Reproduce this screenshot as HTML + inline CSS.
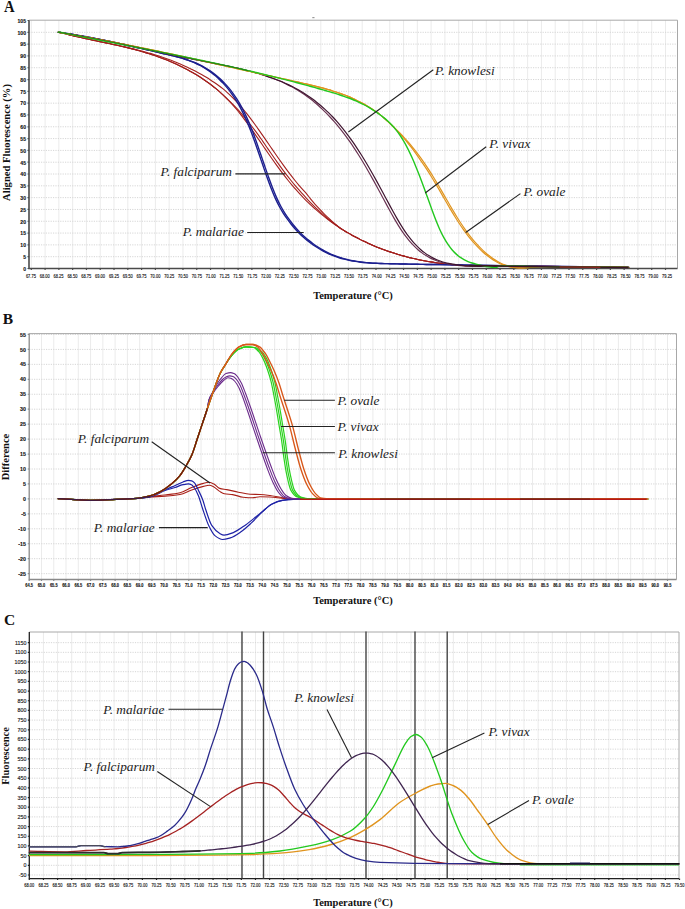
<!DOCTYPE html><html><head><meta charset="utf-8"><style>html,body{margin:0;padding:0;background:#fff;overflow:hidden;}svg{display:block;}</style></head><body>
<svg width="685" height="909" viewBox="0 0 685 909">
<rect width="685" height="909" fill="#fff"/>
<path d="M31.3,20.2V268.5 M45.09,20.2V268.5 M58.87,20.2V268.5 M72.66,20.2V268.5 M86.45,20.2V268.5 M100.23,20.2V268.5 M114.02,20.2V268.5 M127.81,20.2V268.5 M141.6,20.2V268.5 M155.38,20.2V268.5 M169.17,20.2V268.5 M182.96,20.2V268.5 M196.74,20.2V268.5 M210.53,20.2V268.5 M224.32,20.2V268.5 M238.11,20.2V268.5 M251.89,20.2V268.5 M265.68,20.2V268.5 M279.47,20.2V268.5 M293.25,20.2V268.5 M307.04,20.2V268.5 M320.83,20.2V268.5 M334.61,20.2V268.5 M348.4,20.2V268.5 M362.19,20.2V268.5 M375.98,20.2V268.5 M389.76,20.2V268.5 M403.55,20.2V268.5 M417.34,20.2V268.5 M431.12,20.2V268.5 M444.91,20.2V268.5 M458.7,20.2V268.5 M472.48,20.2V268.5 M486.27,20.2V268.5 M500.06,20.2V268.5 M513.85,20.2V268.5 M527.63,20.2V268.5 M541.42,20.2V268.5 M555.21,20.2V268.5 M568.99,20.2V268.5 M582.78,20.2V268.5 M596.57,20.2V268.5 M610.35,20.2V268.5 M624.14,20.2V268.5 M637.93,20.2V268.5 M651.72,20.2V268.5 M665.5,20.2V268.5" stroke="#ebebeb" stroke-width="1" fill="none"/>
<path d="M29,256.69H677.5 M29,244.88H677.5 M29,233.07H677.5 M29,221.26H677.5 M29,209.45H677.5 M29,197.64H677.5 M29,185.83H677.5 M29,174.02H677.5 M29,162.21H677.5 M29,150.4H677.5 M29,138.59H677.5 M29,126.78H677.5 M29,114.97H677.5 M29,103.16H677.5 M29,91.35H677.5 M29,79.54H677.5 M29,67.73H677.5 M29,55.92H677.5 M29,44.11H677.5 M29,32.3H677.5" stroke="#d6d6d6" stroke-width="1" stroke-dasharray="1.2 1.2" fill="none"/>
<path d="M29,20.2H677.5V268.5" stroke="#a8a8a8" stroke-width="1" fill="none"/>
<path d="M29,20.2V268.5H677.5" stroke="#4a4a4a" stroke-width="1.6" fill="none"/>
<path d="M31.3,268.5v1.5 M45.09,268.5v1.5 M58.87,268.5v1.5 M72.66,268.5v1.5 M86.45,268.5v1.5 M100.23,268.5v1.5 M114.02,268.5v1.5 M127.81,268.5v1.5 M141.6,268.5v1.5 M155.38,268.5v1.5 M169.17,268.5v1.5 M182.96,268.5v1.5 M196.74,268.5v1.5 M210.53,268.5v1.5 M224.32,268.5v1.5 M238.11,268.5v1.5 M251.89,268.5v1.5 M265.68,268.5v1.5 M279.47,268.5v1.5 M293.25,268.5v1.5 M307.04,268.5v1.5 M320.83,268.5v1.5 M334.61,268.5v1.5 M348.4,268.5v1.5 M362.19,268.5v1.5 M375.98,268.5v1.5 M389.76,268.5v1.5 M403.55,268.5v1.5 M417.34,268.5v1.5 M431.12,268.5v1.5 M444.91,268.5v1.5 M458.7,268.5v1.5 M472.48,268.5v1.5 M486.27,268.5v1.5 M500.06,268.5v1.5 M513.85,268.5v1.5 M527.63,268.5v1.5 M541.42,268.5v1.5 M555.21,268.5v1.5 M568.99,268.5v1.5 M582.78,268.5v1.5 M596.57,268.5v1.5 M610.35,268.5v1.5 M624.14,268.5v1.5 M637.93,268.5v1.5 M651.72,268.5v1.5 M665.5,268.5v1.5 M29,268.5h-1.5 M29,256.69h-1.5 M29,244.88h-1.5 M29,233.07h-1.5 M29,221.26h-1.5 M29,209.45h-1.5 M29,197.64h-1.5 M29,185.83h-1.5 M29,174.02h-1.5 M29,162.21h-1.5 M29,150.4h-1.5 M29,138.59h-1.5 M29,126.78h-1.5 M29,114.97h-1.5 M29,103.16h-1.5 M29,91.35h-1.5 M29,79.54h-1.5 M29,67.73h-1.5 M29,55.92h-1.5 M29,44.11h-1.5 M29,32.3h-1.5 M29,20.49h-1.5" stroke="#4a4a4a" stroke-width="1.2" fill="none"/>
<g font-family="'Liberation Sans', sans-serif" font-size="5.1" font-weight="bold" fill="#111" stroke="#111" stroke-width="0.12">
<text x="30.9" y="277.7" font-size="4.6" font-weight="normal" text-anchor="middle" textLength="10" lengthAdjust="spacingAndGlyphs">67.75</text>
<text x="44.73" y="277.7" font-size="4.6" font-weight="normal" text-anchor="middle" textLength="10" lengthAdjust="spacingAndGlyphs">68.00</text>
<text x="58.56" y="277.7" font-size="4.6" font-weight="normal" text-anchor="middle" textLength="10" lengthAdjust="spacingAndGlyphs">68.25</text>
<text x="72.39" y="277.7" font-size="4.6" font-weight="normal" text-anchor="middle" textLength="10" lengthAdjust="spacingAndGlyphs">68.50</text>
<text x="86.22" y="277.7" font-size="4.6" font-weight="normal" text-anchor="middle" textLength="10" lengthAdjust="spacingAndGlyphs">68.75</text>
<text x="100.05" y="277.7" font-size="4.6" font-weight="normal" text-anchor="middle" textLength="10" lengthAdjust="spacingAndGlyphs">69.00</text>
<text x="113.88" y="277.7" font-size="4.6" font-weight="normal" text-anchor="middle" textLength="10" lengthAdjust="spacingAndGlyphs">69.25</text>
<text x="127.71" y="277.7" font-size="4.6" font-weight="normal" text-anchor="middle" textLength="10" lengthAdjust="spacingAndGlyphs">69.50</text>
<text x="141.54" y="277.7" font-size="4.6" font-weight="normal" text-anchor="middle" textLength="10" lengthAdjust="spacingAndGlyphs">69.75</text>
<text x="155.37" y="277.7" font-size="4.6" font-weight="normal" text-anchor="middle" textLength="10" lengthAdjust="spacingAndGlyphs">70.00</text>
<text x="169.2" y="277.7" font-size="4.6" font-weight="normal" text-anchor="middle" textLength="10" lengthAdjust="spacingAndGlyphs">70.25</text>
<text x="183.03" y="277.7" font-size="4.6" font-weight="normal" text-anchor="middle" textLength="10" lengthAdjust="spacingAndGlyphs">70.50</text>
<text x="196.86" y="277.7" font-size="4.6" font-weight="normal" text-anchor="middle" textLength="10" lengthAdjust="spacingAndGlyphs">70.75</text>
<text x="210.69" y="277.7" font-size="4.6" font-weight="normal" text-anchor="middle" textLength="10" lengthAdjust="spacingAndGlyphs">71.00</text>
<text x="224.52" y="277.7" font-size="4.6" font-weight="normal" text-anchor="middle" textLength="10" lengthAdjust="spacingAndGlyphs">71.25</text>
<text x="238.35" y="277.7" font-size="4.6" font-weight="normal" text-anchor="middle" textLength="10" lengthAdjust="spacingAndGlyphs">71.50</text>
<text x="252.18" y="277.7" font-size="4.6" font-weight="normal" text-anchor="middle" textLength="10" lengthAdjust="spacingAndGlyphs">71.75</text>
<text x="266.01" y="277.7" font-size="4.6" font-weight="normal" text-anchor="middle" textLength="10" lengthAdjust="spacingAndGlyphs">72.00</text>
<text x="279.84" y="277.7" font-size="4.6" font-weight="normal" text-anchor="middle" textLength="10" lengthAdjust="spacingAndGlyphs">72.25</text>
<text x="293.67" y="277.7" font-size="4.6" font-weight="normal" text-anchor="middle" textLength="10" lengthAdjust="spacingAndGlyphs">72.50</text>
<text x="307.5" y="277.7" font-size="4.6" font-weight="normal" text-anchor="middle" textLength="10" lengthAdjust="spacingAndGlyphs">72.75</text>
<text x="321.33" y="277.7" font-size="4.6" font-weight="normal" text-anchor="middle" textLength="10" lengthAdjust="spacingAndGlyphs">73.00</text>
<text x="335.16" y="277.7" font-size="4.6" font-weight="normal" text-anchor="middle" textLength="10" lengthAdjust="spacingAndGlyphs">73.25</text>
<text x="348.99" y="277.7" font-size="4.6" font-weight="normal" text-anchor="middle" textLength="10" lengthAdjust="spacingAndGlyphs">73.50</text>
<text x="362.82" y="277.7" font-size="4.6" font-weight="normal" text-anchor="middle" textLength="10" lengthAdjust="spacingAndGlyphs">73.75</text>
<text x="376.65" y="277.7" font-size="4.6" font-weight="normal" text-anchor="middle" textLength="10" lengthAdjust="spacingAndGlyphs">74.00</text>
<text x="390.48" y="277.7" font-size="4.6" font-weight="normal" text-anchor="middle" textLength="10" lengthAdjust="spacingAndGlyphs">74.25</text>
<text x="404.31" y="277.7" font-size="4.6" font-weight="normal" text-anchor="middle" textLength="10" lengthAdjust="spacingAndGlyphs">74.50</text>
<text x="418.14" y="277.7" font-size="4.6" font-weight="normal" text-anchor="middle" textLength="10" lengthAdjust="spacingAndGlyphs">74.75</text>
<text x="431.97" y="277.7" font-size="4.6" font-weight="normal" text-anchor="middle" textLength="10" lengthAdjust="spacingAndGlyphs">75.00</text>
<text x="445.8" y="277.7" font-size="4.6" font-weight="normal" text-anchor="middle" textLength="10" lengthAdjust="spacingAndGlyphs">75.25</text>
<text x="459.63" y="277.7" font-size="4.6" font-weight="normal" text-anchor="middle" textLength="10" lengthAdjust="spacingAndGlyphs">75.50</text>
<text x="473.46" y="277.7" font-size="4.6" font-weight="normal" text-anchor="middle" textLength="10" lengthAdjust="spacingAndGlyphs">75.75</text>
<text x="487.29" y="277.7" font-size="4.6" font-weight="normal" text-anchor="middle" textLength="10" lengthAdjust="spacingAndGlyphs">76.00</text>
<text x="501.12" y="277.7" font-size="4.6" font-weight="normal" text-anchor="middle" textLength="10" lengthAdjust="spacingAndGlyphs">76.25</text>
<text x="514.95" y="277.7" font-size="4.6" font-weight="normal" text-anchor="middle" textLength="10" lengthAdjust="spacingAndGlyphs">76.50</text>
<text x="528.78" y="277.7" font-size="4.6" font-weight="normal" text-anchor="middle" textLength="10" lengthAdjust="spacingAndGlyphs">76.75</text>
<text x="542.61" y="277.7" font-size="4.6" font-weight="normal" text-anchor="middle" textLength="10" lengthAdjust="spacingAndGlyphs">77.00</text>
<text x="556.44" y="277.7" font-size="4.6" font-weight="normal" text-anchor="middle" textLength="10" lengthAdjust="spacingAndGlyphs">77.25</text>
<text x="570.27" y="277.7" font-size="4.6" font-weight="normal" text-anchor="middle" textLength="10" lengthAdjust="spacingAndGlyphs">77.50</text>
<text x="584.1" y="277.7" font-size="4.6" font-weight="normal" text-anchor="middle" textLength="10" lengthAdjust="spacingAndGlyphs">77.75</text>
<text x="597.93" y="277.7" font-size="4.6" font-weight="normal" text-anchor="middle" textLength="10" lengthAdjust="spacingAndGlyphs">78.00</text>
<text x="611.76" y="277.7" font-size="4.6" font-weight="normal" text-anchor="middle" textLength="10" lengthAdjust="spacingAndGlyphs">78.25</text>
<text x="625.59" y="277.7" font-size="4.6" font-weight="normal" text-anchor="middle" textLength="10" lengthAdjust="spacingAndGlyphs">78.50</text>
<text x="639.42" y="277.7" font-size="4.6" font-weight="normal" text-anchor="middle" textLength="10" lengthAdjust="spacingAndGlyphs">78.75</text>
<text x="653.25" y="277.7" font-size="4.6" font-weight="normal" text-anchor="middle" textLength="10" lengthAdjust="spacingAndGlyphs">79.00</text>
<text x="667.08" y="277.7" font-size="4.6" font-weight="normal" text-anchor="middle" textLength="10" lengthAdjust="spacingAndGlyphs">79.25</text>
<text x="26" y="270.8" text-anchor="end">0</text>
<text x="26" y="258.99" text-anchor="end">5</text>
<text x="26" y="247.18" text-anchor="end">10</text>
<text x="26" y="235.37" text-anchor="end">15</text>
<text x="26" y="223.56" text-anchor="end">20</text>
<text x="26" y="211.75" text-anchor="end">25</text>
<text x="26" y="199.94" text-anchor="end">30</text>
<text x="26" y="188.13" text-anchor="end">35</text>
<text x="26" y="176.32" text-anchor="end">40</text>
<text x="26" y="164.51" text-anchor="end">45</text>
<text x="26" y="152.7" text-anchor="end">50</text>
<text x="26" y="140.89" text-anchor="end">55</text>
<text x="26" y="129.08" text-anchor="end">60</text>
<text x="26" y="117.27" text-anchor="end">65</text>
<text x="26" y="105.46" text-anchor="end">70</text>
<text x="26" y="93.65" text-anchor="end">75</text>
<text x="26" y="81.84" text-anchor="end">80</text>
<text x="26" y="70.03" text-anchor="end">85</text>
<text x="26" y="58.22" text-anchor="end">90</text>
<text x="26" y="46.41" text-anchor="end">95</text>
<text x="26" y="34.6" text-anchor="end">100</text>
<text x="26" y="22.79" text-anchor="end">105</text>
</g>
<path d="M41.48,333.6V579.5 M53.75,333.6V579.5 M66.03,333.6V579.5 M78.3,333.6V579.5 M90.58,333.6V579.5 M102.85,333.6V579.5 M115.12,333.6V579.5 M127.4,333.6V579.5 M139.68,333.6V579.5 M151.95,333.6V579.5 M164.22,333.6V579.5 M176.5,333.6V579.5 M188.78,333.6V579.5 M201.05,333.6V579.5 M213.32,333.6V579.5 M225.6,333.6V579.5 M237.88,333.6V579.5 M250.15,333.6V579.5 M262.43,333.6V579.5 M274.7,333.6V579.5 M286.98,333.6V579.5 M299.25,333.6V579.5 M311.52,333.6V579.5 M323.8,333.6V579.5 M336.07,333.6V579.5 M348.35,333.6V579.5 M360.62,333.6V579.5 M372.9,333.6V579.5 M385.18,333.6V579.5 M397.45,333.6V579.5 M409.73,333.6V579.5 M422,333.6V579.5 M434.27,333.6V579.5 M446.55,333.6V579.5 M458.82,333.6V579.5 M471.1,333.6V579.5 M483.38,333.6V579.5 M495.65,333.6V579.5 M507.93,333.6V579.5 M520.2,333.6V579.5 M532.48,333.6V579.5 M544.75,333.6V579.5 M557.03,333.6V579.5 M569.3,333.6V579.5 M581.58,333.6V579.5 M593.85,333.6V579.5 M606.13,333.6V579.5 M618.4,333.6V579.5 M630.68,333.6V579.5 M642.95,333.6V579.5 M655.23,333.6V579.5 M667.5,333.6V579.5" stroke="#ebebeb" stroke-width="1" fill="none"/>
<path d="M29.2,334.45H676.5 M29.2,349.4H676.5 M29.2,364.35H676.5 M29.2,379.3H676.5 M29.2,394.25H676.5 M29.2,409.2H676.5 M29.2,424.15H676.5 M29.2,439.1H676.5 M29.2,454.05H676.5 M29.2,469H676.5 M29.2,483.95H676.5 M29.2,498.9H676.5 M29.2,513.85H676.5 M29.2,528.8H676.5 M29.2,543.75H676.5 M29.2,558.7H676.5 M29.2,573.65H676.5" stroke="#d6d6d6" stroke-width="1" stroke-dasharray="1.2 1.2" fill="none"/>
<path d="M29.2,333.6H676.5V579.5" stroke="#a8a8a8" stroke-width="1" fill="none"/>
<path d="M29.2,333.6V579.5H676.5" stroke="#8a8a8a" stroke-width="1.3" fill="none"/>
<path d="M29.2,579.5v1.5 M41.48,579.5v1.5 M53.75,579.5v1.5 M66.03,579.5v1.5 M78.3,579.5v1.5 M90.58,579.5v1.5 M102.85,579.5v1.5 M115.12,579.5v1.5 M127.4,579.5v1.5 M139.68,579.5v1.5 M151.95,579.5v1.5 M164.22,579.5v1.5 M176.5,579.5v1.5 M188.78,579.5v1.5 M201.05,579.5v1.5 M213.32,579.5v1.5 M225.6,579.5v1.5 M237.88,579.5v1.5 M250.15,579.5v1.5 M262.43,579.5v1.5 M274.7,579.5v1.5 M286.98,579.5v1.5 M299.25,579.5v1.5 M311.52,579.5v1.5 M323.8,579.5v1.5 M336.07,579.5v1.5 M348.35,579.5v1.5 M360.62,579.5v1.5 M372.9,579.5v1.5 M385.18,579.5v1.5 M397.45,579.5v1.5 M409.73,579.5v1.5 M422,579.5v1.5 M434.27,579.5v1.5 M446.55,579.5v1.5 M458.82,579.5v1.5 M471.1,579.5v1.5 M483.38,579.5v1.5 M495.65,579.5v1.5 M507.93,579.5v1.5 M520.2,579.5v1.5 M532.48,579.5v1.5 M544.75,579.5v1.5 M557.03,579.5v1.5 M569.3,579.5v1.5 M581.58,579.5v1.5 M593.85,579.5v1.5 M606.13,579.5v1.5 M618.4,579.5v1.5 M630.68,579.5v1.5 M642.95,579.5v1.5 M655.23,579.5v1.5 M667.5,579.5v1.5 M29.2,334.45h-1.5 M29.2,349.4h-1.5 M29.2,364.35h-1.5 M29.2,379.3h-1.5 M29.2,394.25h-1.5 M29.2,409.2h-1.5 M29.2,424.15h-1.5 M29.2,439.1h-1.5 M29.2,454.05h-1.5 M29.2,469h-1.5 M29.2,483.95h-1.5 M29.2,498.9h-1.5 M29.2,513.85h-1.5 M29.2,528.8h-1.5 M29.2,543.75h-1.5 M29.2,558.7h-1.5 M29.2,573.65h-1.5" stroke="#8a8a8a" stroke-width="1.2" fill="none"/>
<g font-family="'Liberation Sans', sans-serif" font-size="5.3" font-weight="bold" fill="#111" stroke="#111" stroke-width="0.12">
<text x="29.2" y="586.7" font-size="4.5" font-weight="bold" text-anchor="middle" textLength="7.7" lengthAdjust="spacingAndGlyphs">64.5</text>
<text x="41.48" y="586.7" font-size="4.5" font-weight="bold" text-anchor="middle" textLength="7.7" lengthAdjust="spacingAndGlyphs">65.0</text>
<text x="53.75" y="586.7" font-size="4.5" font-weight="bold" text-anchor="middle" textLength="7.7" lengthAdjust="spacingAndGlyphs">65.5</text>
<text x="66.03" y="586.7" font-size="4.5" font-weight="bold" text-anchor="middle" textLength="7.7" lengthAdjust="spacingAndGlyphs">66.0</text>
<text x="78.3" y="586.7" font-size="4.5" font-weight="bold" text-anchor="middle" textLength="7.7" lengthAdjust="spacingAndGlyphs">66.5</text>
<text x="90.58" y="586.7" font-size="4.5" font-weight="bold" text-anchor="middle" textLength="7.7" lengthAdjust="spacingAndGlyphs">67.0</text>
<text x="102.85" y="586.7" font-size="4.5" font-weight="bold" text-anchor="middle" textLength="7.7" lengthAdjust="spacingAndGlyphs">67.5</text>
<text x="115.12" y="586.7" font-size="4.5" font-weight="bold" text-anchor="middle" textLength="7.7" lengthAdjust="spacingAndGlyphs">68.0</text>
<text x="127.4" y="586.7" font-size="4.5" font-weight="bold" text-anchor="middle" textLength="7.7" lengthAdjust="spacingAndGlyphs">68.5</text>
<text x="139.68" y="586.7" font-size="4.5" font-weight="bold" text-anchor="middle" textLength="7.7" lengthAdjust="spacingAndGlyphs">69.0</text>
<text x="151.95" y="586.7" font-size="4.5" font-weight="bold" text-anchor="middle" textLength="7.7" lengthAdjust="spacingAndGlyphs">69.5</text>
<text x="164.22" y="586.7" font-size="4.5" font-weight="bold" text-anchor="middle" textLength="7.7" lengthAdjust="spacingAndGlyphs">70.0</text>
<text x="176.5" y="586.7" font-size="4.5" font-weight="bold" text-anchor="middle" textLength="7.7" lengthAdjust="spacingAndGlyphs">70.5</text>
<text x="188.78" y="586.7" font-size="4.5" font-weight="bold" text-anchor="middle" textLength="7.7" lengthAdjust="spacingAndGlyphs">71.0</text>
<text x="201.05" y="586.7" font-size="4.5" font-weight="bold" text-anchor="middle" textLength="7.7" lengthAdjust="spacingAndGlyphs">71.5</text>
<text x="213.32" y="586.7" font-size="4.5" font-weight="bold" text-anchor="middle" textLength="7.7" lengthAdjust="spacingAndGlyphs">72.0</text>
<text x="225.6" y="586.7" font-size="4.5" font-weight="bold" text-anchor="middle" textLength="7.7" lengthAdjust="spacingAndGlyphs">72.5</text>
<text x="237.88" y="586.7" font-size="4.5" font-weight="bold" text-anchor="middle" textLength="7.7" lengthAdjust="spacingAndGlyphs">73.0</text>
<text x="250.15" y="586.7" font-size="4.5" font-weight="bold" text-anchor="middle" textLength="7.7" lengthAdjust="spacingAndGlyphs">73.5</text>
<text x="262.43" y="586.7" font-size="4.5" font-weight="bold" text-anchor="middle" textLength="7.7" lengthAdjust="spacingAndGlyphs">74.0</text>
<text x="274.7" y="586.7" font-size="4.5" font-weight="bold" text-anchor="middle" textLength="7.7" lengthAdjust="spacingAndGlyphs">74.5</text>
<text x="286.98" y="586.7" font-size="4.5" font-weight="bold" text-anchor="middle" textLength="7.7" lengthAdjust="spacingAndGlyphs">75.0</text>
<text x="299.25" y="586.7" font-size="4.5" font-weight="bold" text-anchor="middle" textLength="7.7" lengthAdjust="spacingAndGlyphs">75.5</text>
<text x="311.52" y="586.7" font-size="4.5" font-weight="bold" text-anchor="middle" textLength="7.7" lengthAdjust="spacingAndGlyphs">76.0</text>
<text x="323.8" y="586.7" font-size="4.5" font-weight="bold" text-anchor="middle" textLength="7.7" lengthAdjust="spacingAndGlyphs">76.5</text>
<text x="336.07" y="586.7" font-size="4.5" font-weight="bold" text-anchor="middle" textLength="7.7" lengthAdjust="spacingAndGlyphs">77.0</text>
<text x="348.35" y="586.7" font-size="4.5" font-weight="bold" text-anchor="middle" textLength="7.7" lengthAdjust="spacingAndGlyphs">77.5</text>
<text x="360.62" y="586.7" font-size="4.5" font-weight="bold" text-anchor="middle" textLength="7.7" lengthAdjust="spacingAndGlyphs">78.0</text>
<text x="372.9" y="586.7" font-size="4.5" font-weight="bold" text-anchor="middle" textLength="7.7" lengthAdjust="spacingAndGlyphs">78.5</text>
<text x="385.18" y="586.7" font-size="4.5" font-weight="bold" text-anchor="middle" textLength="7.7" lengthAdjust="spacingAndGlyphs">79.0</text>
<text x="397.45" y="586.7" font-size="4.5" font-weight="bold" text-anchor="middle" textLength="7.7" lengthAdjust="spacingAndGlyphs">79.5</text>
<text x="409.73" y="586.7" font-size="4.5" font-weight="bold" text-anchor="middle" textLength="7.7" lengthAdjust="spacingAndGlyphs">80.0</text>
<text x="422" y="586.7" font-size="4.5" font-weight="bold" text-anchor="middle" textLength="7.7" lengthAdjust="spacingAndGlyphs">80.5</text>
<text x="434.27" y="586.7" font-size="4.5" font-weight="bold" text-anchor="middle" textLength="7.7" lengthAdjust="spacingAndGlyphs">81.0</text>
<text x="446.55" y="586.7" font-size="4.5" font-weight="bold" text-anchor="middle" textLength="7.7" lengthAdjust="spacingAndGlyphs">81.5</text>
<text x="458.82" y="586.7" font-size="4.5" font-weight="bold" text-anchor="middle" textLength="7.7" lengthAdjust="spacingAndGlyphs">82.0</text>
<text x="471.1" y="586.7" font-size="4.5" font-weight="bold" text-anchor="middle" textLength="7.7" lengthAdjust="spacingAndGlyphs">82.5</text>
<text x="483.38" y="586.7" font-size="4.5" font-weight="bold" text-anchor="middle" textLength="7.7" lengthAdjust="spacingAndGlyphs">83.0</text>
<text x="495.65" y="586.7" font-size="4.5" font-weight="bold" text-anchor="middle" textLength="7.7" lengthAdjust="spacingAndGlyphs">83.5</text>
<text x="507.93" y="586.7" font-size="4.5" font-weight="bold" text-anchor="middle" textLength="7.7" lengthAdjust="spacingAndGlyphs">84.0</text>
<text x="520.2" y="586.7" font-size="4.5" font-weight="bold" text-anchor="middle" textLength="7.7" lengthAdjust="spacingAndGlyphs">84.5</text>
<text x="532.48" y="586.7" font-size="4.5" font-weight="bold" text-anchor="middle" textLength="7.7" lengthAdjust="spacingAndGlyphs">85.0</text>
<text x="544.75" y="586.7" font-size="4.5" font-weight="bold" text-anchor="middle" textLength="7.7" lengthAdjust="spacingAndGlyphs">85.5</text>
<text x="557.03" y="586.7" font-size="4.5" font-weight="bold" text-anchor="middle" textLength="7.7" lengthAdjust="spacingAndGlyphs">86.0</text>
<text x="569.3" y="586.7" font-size="4.5" font-weight="bold" text-anchor="middle" textLength="7.7" lengthAdjust="spacingAndGlyphs">86.5</text>
<text x="581.58" y="586.7" font-size="4.5" font-weight="bold" text-anchor="middle" textLength="7.7" lengthAdjust="spacingAndGlyphs">87.0</text>
<text x="593.85" y="586.7" font-size="4.5" font-weight="bold" text-anchor="middle" textLength="7.7" lengthAdjust="spacingAndGlyphs">87.5</text>
<text x="606.13" y="586.7" font-size="4.5" font-weight="bold" text-anchor="middle" textLength="7.7" lengthAdjust="spacingAndGlyphs">88.0</text>
<text x="618.4" y="586.7" font-size="4.5" font-weight="bold" text-anchor="middle" textLength="7.7" lengthAdjust="spacingAndGlyphs">88.5</text>
<text x="630.68" y="586.7" font-size="4.5" font-weight="bold" text-anchor="middle" textLength="7.7" lengthAdjust="spacingAndGlyphs">89.0</text>
<text x="642.95" y="586.7" font-size="4.5" font-weight="bold" text-anchor="middle" textLength="7.7" lengthAdjust="spacingAndGlyphs">89.5</text>
<text x="655.23" y="586.7" font-size="4.5" font-weight="bold" text-anchor="middle" textLength="7.7" lengthAdjust="spacingAndGlyphs">90.0</text>
<text x="667.5" y="586.7" font-size="4.5" font-weight="bold" text-anchor="middle" textLength="7.7" lengthAdjust="spacingAndGlyphs">90.5</text>
<text x="26" y="336.55" text-anchor="end">55</text>
<text x="26" y="351.5" text-anchor="end">50</text>
<text x="26" y="366.45" text-anchor="end">45</text>
<text x="26" y="381.4" text-anchor="end">40</text>
<text x="26" y="396.35" text-anchor="end">35</text>
<text x="26" y="411.3" text-anchor="end">30</text>
<text x="26" y="426.25" text-anchor="end">25</text>
<text x="26" y="441.2" text-anchor="end">20</text>
<text x="26" y="456.15" text-anchor="end">15</text>
<text x="26" y="471.1" text-anchor="end">10</text>
<text x="26" y="486.05" text-anchor="end">5</text>
<text x="26" y="501" text-anchor="end">0</text>
<text x="26" y="515.95" text-anchor="end">-5</text>
<text x="26" y="530.9" text-anchor="end">-10</text>
<text x="26" y="545.85" text-anchor="end">-15</text>
<text x="26" y="560.8" text-anchor="end">-20</text>
<text x="26" y="575.75" text-anchor="end">-25</text>
</g>
<path d="M43.44,632V878.6 M57.57,632V878.6 M71.7,632V878.6 M85.84,632V878.6 M99.97,632V878.6 M114.11,632V878.6 M128.25,632V878.6 M142.38,632V878.6 M156.52,632V878.6 M170.65,632V878.6 M184.78,632V878.6 M198.92,632V878.6 M213.06,632V878.6 M227.19,632V878.6 M241.33,632V878.6 M255.46,632V878.6 M269.59,632V878.6 M283.73,632V878.6 M297.87,632V878.6 M312,632V878.6 M326.13,632V878.6 M340.27,632V878.6 M354.41,632V878.6 M368.54,632V878.6 M382.68,632V878.6 M396.81,632V878.6 M410.94,632V878.6 M425.08,632V878.6 M439.22,632V878.6 M453.35,632V878.6 M467.49,632V878.6 M481.62,632V878.6 M495.75,632V878.6 M509.89,632V878.6 M524.02,632V878.6 M538.16,632V878.6 M552.29,632V878.6 M566.43,632V878.6 M580.56,632V878.6 M594.7,632V878.6 M608.83,632V878.6 M622.97,632V878.6 M637.1,632V878.6 M651.24,632V878.6 M665.38,632V878.6" stroke="#ebebeb" stroke-width="1" fill="none"/>
<path d="M29.3,874.98H679 M29.3,865.3H679 M29.3,855.62H679 M29.3,845.94H679 M29.3,836.26H679 M29.3,826.58H679 M29.3,816.9H679 M29.3,807.22H679 M29.3,797.54H679 M29.3,787.86H679 M29.3,778.18H679 M29.3,768.5H679 M29.3,758.82H679 M29.3,749.14H679 M29.3,739.46H679 M29.3,729.78H679 M29.3,720.1H679 M29.3,710.42H679 M29.3,700.74H679 M29.3,691.06H679 M29.3,681.38H679 M29.3,671.7H679 M29.3,662.02H679 M29.3,652.34H679 M29.3,642.66H679" stroke="#d6d6d6" stroke-width="1" stroke-dasharray="1.2 1.2" fill="none"/>
<path d="M29.3,632H679V878.6" stroke="#a8a8a8" stroke-width="1" fill="none"/>
<path d="M29.3,632V878.6H679" stroke="#222" stroke-width="1.3" fill="none"/>
<path d="M29.3,878.6v1.5 M43.44,878.6v1.5 M57.57,878.6v1.5 M71.7,878.6v1.5 M85.84,878.6v1.5 M99.97,878.6v1.5 M114.11,878.6v1.5 M128.25,878.6v1.5 M142.38,878.6v1.5 M156.52,878.6v1.5 M170.65,878.6v1.5 M184.78,878.6v1.5 M198.92,878.6v1.5 M213.06,878.6v1.5 M227.19,878.6v1.5 M241.33,878.6v1.5 M255.46,878.6v1.5 M269.59,878.6v1.5 M283.73,878.6v1.5 M297.87,878.6v1.5 M312,878.6v1.5 M326.13,878.6v1.5 M340.27,878.6v1.5 M354.41,878.6v1.5 M368.54,878.6v1.5 M382.68,878.6v1.5 M396.81,878.6v1.5 M410.94,878.6v1.5 M425.08,878.6v1.5 M439.22,878.6v1.5 M453.35,878.6v1.5 M467.49,878.6v1.5 M481.62,878.6v1.5 M495.75,878.6v1.5 M509.89,878.6v1.5 M524.02,878.6v1.5 M538.16,878.6v1.5 M552.29,878.6v1.5 M566.43,878.6v1.5 M580.56,878.6v1.5 M594.7,878.6v1.5 M608.83,878.6v1.5 M622.97,878.6v1.5 M637.1,878.6v1.5 M651.24,878.6v1.5 M665.38,878.6v1.5 M679.51,878.6v1.5 M29.3,874.98h-1.5 M29.3,865.3h-1.5 M29.3,855.62h-1.5 M29.3,845.94h-1.5 M29.3,836.26h-1.5 M29.3,826.58h-1.5 M29.3,816.9h-1.5 M29.3,807.22h-1.5 M29.3,797.54h-1.5 M29.3,787.86h-1.5 M29.3,778.18h-1.5 M29.3,768.5h-1.5 M29.3,758.82h-1.5 M29.3,749.14h-1.5 M29.3,739.46h-1.5 M29.3,729.78h-1.5 M29.3,720.1h-1.5 M29.3,710.42h-1.5 M29.3,700.74h-1.5 M29.3,691.06h-1.5 M29.3,681.38h-1.5 M29.3,671.7h-1.5 M29.3,662.02h-1.5 M29.3,652.34h-1.5 M29.3,642.66h-1.5" stroke="#222" stroke-width="1.2" fill="none"/>
<g font-family="'Liberation Sans', sans-serif" font-size="5.3" font-weight="normal" fill="#222" stroke="#222" stroke-width="0.15">
<text x="29.3" y="887" font-size="4.7" font-weight="normal" text-anchor="middle" textLength="10" lengthAdjust="spacingAndGlyphs">68.00</text>
<text x="43.44" y="887" font-size="4.7" font-weight="normal" text-anchor="middle" textLength="10" lengthAdjust="spacingAndGlyphs">68.25</text>
<text x="57.57" y="887" font-size="4.7" font-weight="normal" text-anchor="middle" textLength="10" lengthAdjust="spacingAndGlyphs">68.50</text>
<text x="71.7" y="887" font-size="4.7" font-weight="normal" text-anchor="middle" textLength="10" lengthAdjust="spacingAndGlyphs">68.75</text>
<text x="85.84" y="887" font-size="4.7" font-weight="normal" text-anchor="middle" textLength="10" lengthAdjust="spacingAndGlyphs">69.00</text>
<text x="99.97" y="887" font-size="4.7" font-weight="normal" text-anchor="middle" textLength="10" lengthAdjust="spacingAndGlyphs">69.25</text>
<text x="114.11" y="887" font-size="4.7" font-weight="normal" text-anchor="middle" textLength="10" lengthAdjust="spacingAndGlyphs">69.50</text>
<text x="128.25" y="887" font-size="4.7" font-weight="normal" text-anchor="middle" textLength="10" lengthAdjust="spacingAndGlyphs">69.75</text>
<text x="142.38" y="887" font-size="4.7" font-weight="normal" text-anchor="middle" textLength="10" lengthAdjust="spacingAndGlyphs">70.00</text>
<text x="156.52" y="887" font-size="4.7" font-weight="normal" text-anchor="middle" textLength="10" lengthAdjust="spacingAndGlyphs">70.25</text>
<text x="170.65" y="887" font-size="4.7" font-weight="normal" text-anchor="middle" textLength="10" lengthAdjust="spacingAndGlyphs">70.50</text>
<text x="184.78" y="887" font-size="4.7" font-weight="normal" text-anchor="middle" textLength="10" lengthAdjust="spacingAndGlyphs">70.75</text>
<text x="198.92" y="887" font-size="4.7" font-weight="normal" text-anchor="middle" textLength="10" lengthAdjust="spacingAndGlyphs">71.00</text>
<text x="213.06" y="887" font-size="4.7" font-weight="normal" text-anchor="middle" textLength="10" lengthAdjust="spacingAndGlyphs">71.25</text>
<text x="227.19" y="887" font-size="4.7" font-weight="normal" text-anchor="middle" textLength="10" lengthAdjust="spacingAndGlyphs">71.50</text>
<text x="241.33" y="887" font-size="4.7" font-weight="normal" text-anchor="middle" textLength="10" lengthAdjust="spacingAndGlyphs">71.75</text>
<text x="255.46" y="887" font-size="4.7" font-weight="normal" text-anchor="middle" textLength="10" lengthAdjust="spacingAndGlyphs">72.00</text>
<text x="269.59" y="887" font-size="4.7" font-weight="normal" text-anchor="middle" textLength="10" lengthAdjust="spacingAndGlyphs">72.25</text>
<text x="283.73" y="887" font-size="4.7" font-weight="normal" text-anchor="middle" textLength="10" lengthAdjust="spacingAndGlyphs">72.50</text>
<text x="297.87" y="887" font-size="4.7" font-weight="normal" text-anchor="middle" textLength="10" lengthAdjust="spacingAndGlyphs">72.75</text>
<text x="312" y="887" font-size="4.7" font-weight="normal" text-anchor="middle" textLength="10" lengthAdjust="spacingAndGlyphs">73.00</text>
<text x="326.13" y="887" font-size="4.7" font-weight="normal" text-anchor="middle" textLength="10" lengthAdjust="spacingAndGlyphs">73.25</text>
<text x="340.27" y="887" font-size="4.7" font-weight="normal" text-anchor="middle" textLength="10" lengthAdjust="spacingAndGlyphs">73.50</text>
<text x="354.41" y="887" font-size="4.7" font-weight="normal" text-anchor="middle" textLength="10" lengthAdjust="spacingAndGlyphs">73.75</text>
<text x="368.54" y="887" font-size="4.7" font-weight="normal" text-anchor="middle" textLength="10" lengthAdjust="spacingAndGlyphs">74.00</text>
<text x="382.68" y="887" font-size="4.7" font-weight="normal" text-anchor="middle" textLength="10" lengthAdjust="spacingAndGlyphs">74.25</text>
<text x="396.81" y="887" font-size="4.7" font-weight="normal" text-anchor="middle" textLength="10" lengthAdjust="spacingAndGlyphs">74.50</text>
<text x="410.94" y="887" font-size="4.7" font-weight="normal" text-anchor="middle" textLength="10" lengthAdjust="spacingAndGlyphs">74.75</text>
<text x="425.08" y="887" font-size="4.7" font-weight="normal" text-anchor="middle" textLength="10" lengthAdjust="spacingAndGlyphs">75.00</text>
<text x="439.22" y="887" font-size="4.7" font-weight="normal" text-anchor="middle" textLength="10" lengthAdjust="spacingAndGlyphs">75.25</text>
<text x="453.35" y="887" font-size="4.7" font-weight="normal" text-anchor="middle" textLength="10" lengthAdjust="spacingAndGlyphs">75.50</text>
<text x="467.49" y="887" font-size="4.7" font-weight="normal" text-anchor="middle" textLength="10" lengthAdjust="spacingAndGlyphs">75.75</text>
<text x="481.62" y="887" font-size="4.7" font-weight="normal" text-anchor="middle" textLength="10" lengthAdjust="spacingAndGlyphs">76.00</text>
<text x="495.75" y="887" font-size="4.7" font-weight="normal" text-anchor="middle" textLength="10" lengthAdjust="spacingAndGlyphs">76.25</text>
<text x="509.89" y="887" font-size="4.7" font-weight="normal" text-anchor="middle" textLength="10" lengthAdjust="spacingAndGlyphs">76.50</text>
<text x="524.02" y="887" font-size="4.7" font-weight="normal" text-anchor="middle" textLength="10" lengthAdjust="spacingAndGlyphs">76.75</text>
<text x="538.16" y="887" font-size="4.7" font-weight="normal" text-anchor="middle" textLength="10" lengthAdjust="spacingAndGlyphs">77.00</text>
<text x="552.29" y="887" font-size="4.7" font-weight="normal" text-anchor="middle" textLength="10" lengthAdjust="spacingAndGlyphs">77.25</text>
<text x="566.43" y="887" font-size="4.7" font-weight="normal" text-anchor="middle" textLength="10" lengthAdjust="spacingAndGlyphs">77.50</text>
<text x="580.56" y="887" font-size="4.7" font-weight="normal" text-anchor="middle" textLength="10" lengthAdjust="spacingAndGlyphs">77.75</text>
<text x="594.7" y="887" font-size="4.7" font-weight="normal" text-anchor="middle" textLength="10" lengthAdjust="spacingAndGlyphs">78.00</text>
<text x="608.83" y="887" font-size="4.7" font-weight="normal" text-anchor="middle" textLength="10" lengthAdjust="spacingAndGlyphs">78.25</text>
<text x="622.97" y="887" font-size="4.7" font-weight="normal" text-anchor="middle" textLength="10" lengthAdjust="spacingAndGlyphs">78.50</text>
<text x="637.1" y="887" font-size="4.7" font-weight="normal" text-anchor="middle" textLength="10" lengthAdjust="spacingAndGlyphs">78.75</text>
<text x="651.24" y="887" font-size="4.7" font-weight="normal" text-anchor="middle" textLength="10" lengthAdjust="spacingAndGlyphs">79.00</text>
<text x="665.38" y="887" font-size="4.7" font-weight="normal" text-anchor="middle" textLength="10" lengthAdjust="spacingAndGlyphs">79.25</text>
<text x="679.51" y="887" font-size="4.7" font-weight="normal" text-anchor="middle" textLength="10" lengthAdjust="spacingAndGlyphs">79.50</text>
<text x="26.4" y="876.98" text-anchor="end">-50</text>
<text x="26.4" y="867.3" text-anchor="end">0</text>
<text x="26.4" y="857.62" text-anchor="end">50</text>
<text x="26.4" y="847.94" text-anchor="end">100</text>
<text x="26.4" y="838.26" text-anchor="end">150</text>
<text x="26.4" y="828.58" text-anchor="end">200</text>
<text x="26.4" y="818.9" text-anchor="end">250</text>
<text x="26.4" y="809.22" text-anchor="end">300</text>
<text x="26.4" y="799.54" text-anchor="end">350</text>
<text x="26.4" y="789.86" text-anchor="end">400</text>
<text x="26.4" y="780.18" text-anchor="end">450</text>
<text x="26.4" y="770.5" text-anchor="end">500</text>
<text x="26.4" y="760.82" text-anchor="end">550</text>
<text x="26.4" y="751.14" text-anchor="end">600</text>
<text x="26.4" y="741.46" text-anchor="end">650</text>
<text x="26.4" y="731.78" text-anchor="end">700</text>
<text x="26.4" y="722.1" text-anchor="end">750</text>
<text x="26.4" y="712.42" text-anchor="end">800</text>
<text x="26.4" y="702.74" text-anchor="end">850</text>
<text x="26.4" y="693.06" text-anchor="end">900</text>
<text x="26.4" y="683.38" text-anchor="end">950</text>
<text x="26.4" y="673.7" text-anchor="end">1000</text>
<text x="26.4" y="664.02" text-anchor="end">1050</text>
<text x="26.4" y="654.34" text-anchor="end">1100</text>
<text x="26.4" y="644.66" text-anchor="end">1150</text>
</g>
<g font-family="'Liberation Serif', serif" font-weight="bold" fill="#111">
<text x="4" y="11.7" font-size="16" textLength="10.6" lengthAdjust="spacingAndGlyphs">A</text>
<text x="2.8" y="323.8" font-size="15.5">B</text>
<text x="4" y="625" font-size="15.5">C</text>
<text x="353" y="299.4" font-size="10.5" text-anchor="middle">Temperature (°C)</text>
<text x="353" y="603.8" font-size="10.5" text-anchor="middle">Temperature (°C)</text>
<text x="353" y="905.8" font-size="10.5" text-anchor="middle">Temperature (°C)</text>
<text transform="translate(9.6,142.5) rotate(-90)" font-size="10.6" text-anchor="middle">Aligned Fluorescence (%)</text>
<text transform="translate(8.6,457) rotate(-90)" font-size="10.5" text-anchor="middle">Difference</text>
<text transform="translate(8.6,756) rotate(-90)" font-size="10.4" text-anchor="middle">Fluorescence</text>
</g>
<path d="M58.3,32.2 C58.87,32.25 59.43,32.28 60,32.34 C61.33,32.51 62.67,33.07 64,33.42 C65.33,33.77 66.67,34.11 68,34.44 C69.33,34.78 70.67,35.1 72,35.43 C73.33,35.75 74.67,36.06 76,36.37 C77.33,36.69 78.67,36.99 80,37.29 C81.33,37.59 82.67,37.89 84,38.19 C85.33,38.48 86.67,38.77 88,39.06 C89.33,39.35 90.67,39.63 92,39.92 C93.33,40.2 94.67,40.49 96,40.77 C97.33,41.05 98.67,41.33 100,41.61 C101.33,41.9 102.67,42.18 104,42.46 C105.33,42.75 106.67,43.03 108,43.32 C109.33,43.6 110.67,43.89 112,44.18 C113.33,44.47 114.67,44.77 116,45.07 C117.33,45.37 118.67,45.67 120,45.97 C121.33,46.28 122.67,46.59 124,46.91 C125.33,47.22 126.67,47.55 128,47.88 C129.33,48.2 130.67,48.54 132,48.88 C133.33,49.22 134.67,49.57 136,49.93 C137.33,50.29 138.67,50.66 140,51.03 C141.33,51.41 142.67,51.79 144,52.19 C145.33,52.58 146.67,52.98 148,53.4 C149.33,53.82 150.67,54.24 152,54.68 C153.33,55.12 154.67,55.57 156,56.03 C157.33,56.49 158.67,56.97 160,57.45 C161.33,57.94 162.67,58.45 164,58.96 C165.33,59.48 166.67,60.01 168,60.55 C169.33,61.1 170.67,61.66 172,62.24 C173.33,62.82 174.67,63.41 176,64.02 C177.33,64.63 178.67,65.26 180,65.9 C181.33,66.55 182.67,67.21 184,67.9 C185.33,68.58 186.67,69.28 188,70 C189.33,70.72 190.67,71.46 192,72.22 C193.33,72.99 194.67,73.77 196,74.57 C197.33,75.37 198.67,76.2 200,77.05 C201.33,77.9 202.67,78.77 204,79.68 C205.33,80.58 206.67,81.51 208,82.48 C209.33,83.44 210.67,84.44 212,85.47 C213.33,86.51 214.67,87.58 216,88.69 C217.33,89.79 218.67,90.94 220,92.13 C221.33,93.33 222.67,94.56 224,95.84 C225.33,97.12 226.67,98.45 228,99.83 C229.33,101.21 230.67,102.64 232,104.12 C233.33,105.6 234.67,107.15 236,108.74 C237.33,110.33 238.67,111.98 240,113.66 C241.33,115.35 242.67,117.09 244,118.86 C245.33,120.62 246.67,122.44 248,124.27 C249.33,126.1 250.67,127.97 252,129.86 C253.33,131.74 254.67,133.65 256,135.57 C257.33,137.49 258.67,139.43 260,141.36 C261.33,143.3 262.67,145.25 264,147.19 C265.33,149.13 266.67,151.07 268,153 C269.33,154.93 270.67,156.86 272,158.75 C273.33,160.65 274.67,162.54 276,164.4 C277.33,166.25 278.67,168.09 280,169.89 C281.33,171.69 282.67,173.46 284,175.18 C285.33,176.9 286.67,178.59 288,180.24 C289.33,181.89 290.67,183.5 292,185.07 C293.33,186.65 294.67,188.18 296,189.69 C297.33,191.19 298.67,192.65 300,194.09 C301.33,195.52 302.67,196.92 304,198.28 C305.33,199.65 306.67,200.98 308,202.28 C309.33,203.58 310.67,204.84 312,206.08 C313.33,207.32 314.67,208.52 316,209.7 C317.33,210.88 318.67,212.03 320,213.14 C321.33,214.26 322.67,215.35 324,216.42 C325.33,217.48 326.67,218.51 328,219.52 C329.33,220.53 330.67,221.52 332,222.48 C333.33,223.44 334.67,224.37 336,225.28 C337.33,226.19 338.67,227.08 340,227.94 C341.33,228.81 342.67,229.65 344,230.47 C345.33,231.29 346.67,232.09 348,232.87 C349.33,233.65 350.67,234.41 352,235.15 C353.33,235.89 354.67,236.61 356,237.31 C357.33,238.01 358.67,238.7 360,239.37 C361.33,240.04 362.67,240.69 364,241.33 C365.33,241.96 366.67,242.59 368,243.19 C369.33,243.8 370.67,244.39 372,244.97 C373.33,245.54 374.67,246.1 376,246.65 C377.33,247.2 378.67,247.73 380,248.25 C381.33,248.77 382.67,249.27 384,249.76 C385.33,250.25 386.67,250.73 388,251.19 C389.33,251.65 390.67,252.1 392,252.54 C393.33,252.98 394.67,253.4 396,253.81 C397.33,254.22 398.67,254.62 400,255.01 C401.33,255.39 402.67,255.77 404,256.13 C405.33,256.49 406.67,256.84 408,257.18 C409.33,257.52 410.67,257.84 412,258.16 C413.33,258.47 414.67,258.78 416,259.07 C417.33,259.36 418.67,259.65 420,259.92 C421.33,260.19 422.67,260.45 424,260.7 C425.33,260.95 426.67,261.19 428,261.42 C429.33,261.65 430.67,261.88 432,262.09 C433.33,262.3 434.67,262.5 436,262.69 C437.33,262.89 438.67,263.07 440,263.25 C441.33,263.42 442.67,263.59 444,263.75 C445.33,263.9 446.67,264.05 448,264.2 C449.33,264.34 450.67,264.47 452,264.6 C453.33,264.72 454.67,264.84 456,264.95 C457.33,265.06 458.67,265.17 460,265.27 C461.33,265.36 462.67,265.45 464,265.54 C465.33,265.62 466.67,265.76 468,265.77 C472,265.79 476,265.78 480,265.8 C529.33,265.99 578.67,266.87 628,267.4" fill="none" stroke="#a3201e" stroke-width="1.1" stroke-linejoin="round" stroke-linecap="round"/>
<path d="M58.3,32.2 C58.87,32.25 59.43,32.28 60,32.34 C61.33,32.51 62.67,33.07 64,33.42 C65.33,33.77 66.67,34.11 68,34.44 C69.33,34.78 70.67,35.1 72,35.43 C73.33,35.75 74.67,36.06 76,36.37 C77.33,36.69 78.67,36.99 80,37.29 C81.33,37.59 82.67,37.89 84,38.19 C85.33,38.48 86.67,38.77 88,39.06 C89.33,39.35 90.67,39.63 92,39.92 C93.33,40.2 94.67,40.49 96,40.77 C97.33,41.05 98.67,41.33 100,41.61 C101.33,41.9 102.67,42.18 104,42.46 C105.33,42.75 106.67,43.03 108,43.32 C109.33,43.6 110.67,43.89 112,44.18 C113.33,44.47 114.67,44.77 116,45.07 C117.33,45.37 118.67,45.67 120,45.97 C121.33,46.28 122.67,46.59 124,46.91 C125.33,47.22 126.67,47.55 128,47.88 C129.33,48.2 130.67,48.54 132,48.88 C133.33,49.22 134.67,49.57 136,49.93 C137.33,50.29 138.67,50.66 140,51.03 C141.33,51.41 142.67,51.79 144,52.19 C145.33,52.58 146.67,52.98 148,53.4 C149.33,53.82 150.67,54.24 152,54.68 C153.33,55.12 154.67,55.57 156,56.03 C157.33,56.49 158.67,56.97 160,57.45 C161.33,57.94 162.67,58.45 164,58.96 C165.33,59.48 166.67,60.01 168,60.55 C169.33,61.1 170.67,61.66 172,62.24 C173.33,62.82 174.67,63.41 176,64.02 C177.33,64.63 178.67,65.26 180,65.9 C181.33,66.55 182.67,67.21 184,67.9 C185.33,68.58 186.67,69.28 188,70 C189.33,70.72 190.67,71.46 192,72.22 C193.33,72.99 194.67,73.77 196,74.57 C197.33,75.37 198.67,76.2 200,77.05 C201.33,77.9 202.67,78.77 204,79.68 C205.33,80.58 206.67,81.51 208,82.48 C209.33,83.44 210.67,84.44 212,85.47 C213.33,86.51 214.67,87.58 216,88.69 C217.33,89.79 218.67,90.94 220,92.13 C221.33,93.33 222.67,94.6 224,95.84 C225.43,97.17 226.85,98.47 228.28,99.83 C229.74,101.22 231.2,102.64 232.65,104.12 C234.11,105.6 235.57,107.15 237.03,108.74 C238.48,110.33 239.94,111.98 241.4,113.66 C242.86,115.35 244.32,117.09 245.77,118.86 C247.23,120.62 248.69,122.44 250.15,124.27 C251.6,126.1 253.06,127.95 254.52,129.86 C255.95,131.72 257.37,133.59 258.8,135.57 C260.13,137.42 261.47,139.43 262.8,141.36 C264.13,143.3 265.47,145.25 266.8,147.19 C268.13,149.13 269.47,151.07 270.8,153 C272.13,154.93 273.47,156.86 274.8,158.75 C276.13,160.65 277.47,162.54 278.8,164.4 C280.13,166.25 281.47,168.09 282.8,169.89 C284.13,171.69 285.47,173.46 286.8,175.18 C288.13,176.9 289.47,178.59 290.8,180.24 C292.13,181.89 293.47,183.5 294.8,185.07 C296.13,186.65 297.47,188.18 298.8,189.69 C300.13,191.19 301.47,192.6 302.8,194.09 C304.04,195.47 305.28,196.92 306.52,198.28 C307.76,199.65 309,200.98 310.24,202.28 C311.48,203.58 312.72,204.84 313.96,206.08 C315.2,207.32 316.44,208.52 317.68,209.7 C318.92,210.88 320.16,212.03 321.4,213.14 C322.64,214.26 323.88,215.35 325.12,216.42 C326.36,217.48 327.6,218.51 328.84,219.52 C330.08,220.53 331.32,221.52 332.56,222.48 C333.8,223.44 335.04,224.37 336.28,225.28 C337.52,226.19 338.76,227.11 340,227.94 C341.33,228.84 342.67,229.65 344,230.47 C345.33,231.29 346.67,232.09 348,232.87 C349.33,233.65 350.67,234.41 352,235.15 C353.33,235.89 354.67,236.61 356,237.31 C357.33,238.01 358.67,238.7 360,239.37 C361.33,240.04 362.67,240.69 364,241.33 C365.33,241.96 366.67,242.59 368,243.19 C369.33,243.8 370.67,244.39 372,244.97 C373.33,245.54 374.67,246.1 376,246.65 C377.33,247.2 378.67,247.73 380,248.25 C381.33,248.77 382.67,249.27 384,249.76 C385.33,250.25 386.67,250.73 388,251.19 C389.33,251.65 390.67,252.1 392,252.54 C393.33,252.98 394.67,253.4 396,253.81 C397.33,254.22 398.67,254.62 400,255.01 C401.33,255.39 402.67,255.77 404,256.13 C405.33,256.49 406.67,256.84 408,257.18 C409.33,257.52 410.67,257.84 412,258.16 C413.33,258.47 414.67,258.78 416,259.07 C417.33,259.36 418.67,259.65 420,259.92 C421.33,260.19 422.67,260.45 424,260.7 C425.33,260.95 426.67,261.19 428,261.42 C429.33,261.65 430.67,261.88 432,262.09 C433.33,262.3 434.67,262.5 436,262.69 C437.33,262.89 438.67,263.07 440,263.25 C441.33,263.42 442.67,263.59 444,263.75 C445.33,263.9 446.67,264.05 448,264.2 C449.33,264.34 450.67,264.47 452,264.6 C453.33,264.72 454.67,264.84 456,264.95 C457.33,265.06 458.67,265.17 460,265.27 C461.33,265.36 462.67,265.45 464,265.54 C465.33,265.62 466.67,265.76 468,265.77 C472,265.79 476,265.78 480,265.8 C529.33,265.99 578.67,266.87 628,267.4" fill="none" stroke="#a3201e" stroke-width="1.1" stroke-linejoin="round" stroke-linecap="round"/>
<path d="M58.3,32.2 C58.87,32.25 59.43,32.28 60,32.34 C61.33,32.51 62.67,33.07 64,33.42 C65.33,33.77 66.67,34.11 68,34.44 C69.33,34.78 70.67,35.1 72,35.43 C73.33,35.75 74.67,36.06 76,36.37 C77.33,36.69 78.67,36.99 80,37.29 C81.33,37.59 82.67,37.89 84,38.19 C85.33,38.48 86.67,38.77 88,39.06 C89.33,39.35 90.67,39.63 92,39.92 C93.33,40.2 94.67,40.49 96,40.77 C97.33,41.05 98.67,41.33 100,41.61 C101.33,41.9 102.67,42.18 104,42.46 C105.33,42.75 106.67,43.03 108,43.32 C109.38,43.61 110.75,43.9 112.13,44.18 C113.55,44.48 114.97,44.77 116.39,45.07 C117.81,45.37 119.23,45.67 120.65,45.97 C122.07,46.28 123.49,46.59 124.91,46.91 C126.33,47.22 127.75,47.55 129.17,47.88 C130.59,48.2 132.01,48.54 133.42,48.88 C134.84,49.22 136.26,49.57 137.68,49.93 C139.1,50.29 140.52,50.66 141.94,51.03 C143.36,51.41 144.78,51.79 146.2,52.19 C147.62,52.58 149.04,52.98 150.46,53.4 C151.88,53.82 153.3,54.24 154.72,54.68 C156.14,55.12 157.56,55.57 158.98,56.03 C160.4,56.49 161.82,56.97 163.24,57.45 C164.66,57.94 166.08,58.45 167.5,58.96 C168.92,59.48 170.34,60.01 171.76,60.55 C173.18,61.1 174.6,61.66 176.02,62.24 C177.43,62.82 178.85,63.41 180.27,64.02 C181.69,64.63 183.11,65.26 184.53,65.9 C185.95,66.55 187.37,67.21 188.79,67.9 C190.21,68.58 191.63,69.28 193.05,70 C194.47,70.72 195.89,71.46 197.31,72.22 C198.73,72.99 200.15,73.77 201.57,74.57 C202.99,75.37 204.41,76.2 205.83,77.05 C207.25,77.9 208.67,78.77 210.09,79.68 C211.51,80.58 212.93,81.51 214.35,82.48 C215.77,83.44 217.19,84.43 218.61,85.47 C220,86.5 221.4,87.55 222.8,88.69 C224.13,89.77 225.47,90.94 226.8,92.13 C228.13,93.33 229.47,94.56 230.8,95.84 C232.13,97.12 233.47,98.45 234.8,99.83 C236.13,101.21 237.47,102.64 238.8,104.12 C240.13,105.6 241.47,107.15 242.8,108.74 C244.13,110.33 245.47,111.98 246.8,113.66 C248.13,115.35 249.47,117.09 250.8,118.86 C252.13,120.62 253.47,122.44 254.8,124.27 C256.13,126.1 257.47,127.97 258.8,129.86 C260.13,131.74 261.47,133.65 262.8,135.57 C264.13,137.49 265.47,139.43 266.8,141.36 C268.13,143.3 269.47,145.25 270.8,147.19 C272.13,149.13 273.47,151.07 274.8,153 C276.13,154.93 277.47,156.86 278.8,158.75 C280.13,160.65 281.47,162.54 282.8,164.4 C284.13,166.25 285.47,168.09 286.8,169.89 C288.13,171.69 289.47,173.46 290.8,175.18 C292.13,176.9 293.47,178.59 294.8,180.24 C296.13,181.89 297.47,183.5 298.8,185.07 C300.13,186.65 301.47,188.18 302.8,189.69 C304.13,191.19 305.47,192.51 306.8,194.09 C307.91,195.39 309.01,196.92 310.12,198.28 C311.23,199.65 312.33,200.98 313.44,202.28 C314.55,203.58 315.65,204.84 316.76,206.08 C317.87,207.32 318.97,208.52 320.08,209.7 C321.19,210.88 322.29,212.03 323.4,213.14 C324.51,214.26 325.61,215.35 326.72,216.42 C327.83,217.48 328.93,218.51 330.04,219.52 C331.15,220.53 332.25,221.52 333.36,222.48 C334.47,223.44 335.57,224.37 336.68,225.28 C337.79,226.19 338.89,227.16 340,227.94 C341.33,228.89 342.67,229.65 344,230.47 C345.33,231.29 346.67,232.09 348,232.87 C349.33,233.65 350.67,234.41 352,235.15 C353.33,235.89 354.67,236.61 356,237.31 C357.33,238.01 358.67,238.7 360,239.37 C361.33,240.04 362.67,240.69 364,241.33 C365.33,241.96 366.67,242.59 368,243.19 C369.33,243.8 370.67,244.39 372,244.97 C373.33,245.54 374.67,246.1 376,246.65 C377.33,247.2 378.67,247.73 380,248.25 C381.33,248.77 382.67,249.27 384,249.76 C385.33,250.25 386.67,250.73 388,251.19 C389.33,251.65 390.67,252.1 392,252.54 C393.33,252.98 394.67,253.4 396,253.81 C397.33,254.22 398.67,254.62 400,255.01 C401.33,255.39 402.67,255.77 404,256.13 C405.33,256.49 406.67,256.84 408,257.18 C409.33,257.52 410.67,257.84 412,258.16 C413.33,258.47 414.67,258.78 416,259.07 C417.33,259.36 418.67,259.65 420,259.92 C421.33,260.19 422.67,260.45 424,260.7 C425.33,260.95 426.67,261.19 428,261.42 C429.33,261.65 430.67,261.88 432,262.09 C433.33,262.3 434.67,262.5 436,262.69 C437.33,262.89 438.67,263.07 440,263.25 C441.33,263.42 442.67,263.59 444,263.75 C445.33,263.9 446.67,264.05 448,264.2 C449.33,264.34 450.67,264.47 452,264.6 C453.33,264.72 454.67,264.84 456,264.95 C457.33,265.06 458.67,265.17 460,265.27 C461.33,265.36 462.67,265.45 464,265.54 C465.33,265.62 466.67,265.76 468,265.77 C472,265.79 476,265.78 480,265.8 C529.33,265.99 578.67,266.87 628,267.4" fill="none" stroke="#a3201e" stroke-width="1.1" stroke-linejoin="round" stroke-linecap="round"/>
<path d="M58.3,32.2 C58.87,32.3 59.43,32.42 60,32.51 C61.33,32.73 62.67,32.88 64,33.08 C65.33,33.27 66.67,33.47 68,33.68 C69.33,33.88 70.67,34.09 72,34.31 C73.33,34.52 74.67,34.74 76,34.97 C77.33,35.19 78.67,35.42 80,35.65 C81.33,35.88 82.67,36.12 84,36.36 C85.33,36.6 86.67,36.85 88,37.1 C89.33,37.35 90.67,37.6 92,37.85 C93.33,38.11 94.67,38.37 96,38.63 C97.33,38.9 98.67,39.16 100,39.43 C101.33,39.7 102.67,39.97 104,40.25 C105.33,40.52 106.67,40.8 108,41.08 C109.33,41.36 110.67,41.64 112,41.93 C113.33,42.21 114.67,42.5 116,42.79 C117.33,43.08 118.67,43.37 120,43.67 C121.33,43.96 122.67,44.26 124,44.55 C125.33,44.85 126.67,45.15 128,45.45 C129.33,45.75 130.67,46.05 132,46.35 C133.33,46.66 134.67,46.96 136,47.26 C137.33,47.57 138.67,47.87 140,48.18 C141.33,48.49 142.67,48.79 144,49.1 C145.33,49.41 146.67,49.71 148,50.02 C149.33,50.33 150.67,50.64 152,50.94 C153.33,51.25 154.67,51.56 156,51.87 C157.33,52.17 158.67,52.48 160,52.79 C161.33,53.09 162.67,53.4 164,53.7 C165.33,54.01 166.67,54.31 168,54.62 C169.32,54.93 170.65,55.23 171.97,55.55 C173.29,55.87 174.6,56.19 175.92,56.53 C177.24,56.87 178.55,57.22 179.87,57.59 C181.18,57.96 182.5,58.35 183.81,58.77 C185.13,59.18 186.44,59.61 187.76,60.08 C189.08,60.54 190.39,61.04 191.71,61.56 C193.02,62.09 194.34,62.65 195.65,63.25 C196.97,63.85 198.28,64.49 199.6,65.17 C200.92,65.85 202.23,66.58 203.55,67.36 C204.86,68.13 206.18,68.96 207.49,69.84 C208.81,70.72 210.12,71.66 211.44,72.65 C212.76,73.64 214.07,74.7 215.39,75.81 C216.7,76.93 218.02,78.12 219.33,79.37 C220.65,80.62 221.96,81.95 223.28,83.36 C224.6,84.77 225.91,86.28 227.23,87.88 C228.55,89.49 229.88,91.21 231.2,93.04 C232.53,94.88 233.87,96.84 235.2,98.94 C236.53,101.04 237.87,103.29 239.2,105.69 C240.53,108.09 241.87,110.66 243.2,113.39 C244.53,116.12 245.87,119.05 247.2,122.15 C248.53,125.25 249.87,128.6 251.2,132.07 C252.53,135.54 253.87,139.28 255.2,143.03 C256.53,146.78 257.87,150.71 259.2,154.59 C260.53,158.48 261.87,162.46 263.2,166.33 C264.53,170.2 265.87,174.1 267.2,177.8 C268.53,181.51 269.87,185.19 271.2,188.56 C272.53,191.94 273.87,195.21 275.2,198.13 C276.53,201.05 277.87,203.75 279.2,206.22 C280.53,208.69 281.87,210.95 283.2,213.06 C284.53,215.17 285.87,217.11 287.2,218.96 C288.53,220.81 289.87,222.55 291.2,224.21 C292.53,225.87 293.87,227.44 295.2,228.93 C296.53,230.42 297.87,231.83 299.2,233.17 C300.53,234.5 301.87,235.77 303.2,236.97 C304.53,238.17 305.87,239.31 307.2,240.39 C308.53,241.47 309.87,242.5 311.2,243.47 C312.53,244.45 313.87,245.38 315.2,246.26 C316.53,247.14 317.87,247.98 319.2,248.77 C320.53,249.56 321.87,250.31 323.2,251.02 C324.53,251.72 325.87,252.39 327.2,253.02 C328.53,253.65 329.87,254.24 331.2,254.79 C332.53,255.35 333.87,255.87 335.2,256.35 C336.53,256.83 337.87,257.29 339.2,257.71 C340.53,258.12 341.87,258.52 343.2,258.88 C344.53,259.23 345.87,259.57 347.2,259.87 C348.53,260.18 349.87,260.46 351.2,260.71 C352.53,260.97 353.87,261.2 355.2,261.41 C356.53,261.62 357.87,261.82 359.2,261.99 C360.53,262.16 361.87,262.31 363.2,262.45 C364.53,262.58 365.87,262.7 367.2,262.81 C368.53,262.91 369.87,263.01 371.2,263.09 C372.53,263.17 373.87,263.24 375.2,263.3 C376.53,263.36 377.87,263.41 379.2,263.46 C380.53,263.5 381.87,263.54 383.2,263.58 C384.53,263.61 385.87,263.64 387.2,263.67 C388.53,263.7 389.87,263.73 391.2,263.76 C392.53,263.79 393.87,263.82 395.2,263.85 C396.53,263.88 397.87,263.9 399.2,263.93 C400.53,263.96 401.87,263.99 403.2,264.02 C404.53,264.04 405.87,264.07 407.2,264.1 C408.53,264.13 409.87,264.15 411.2,264.18 C412.53,264.21 413.87,264.23 415.2,264.26 C416.53,264.29 417.87,264.31 419.2,264.34 C420.53,264.37 421.87,264.39 423.2,264.42 C424.53,264.44 425.87,264.48 427.2,264.49 C431.2,264.55 435.2,264.56 439.2,264.6 C469.2,264.93 499.2,265.81 529.2,266.2 C561.87,266.63 594.53,266.87 627.2,267.2" fill="none" stroke="#1c1f8f" stroke-width="1.4" stroke-linejoin="round" stroke-linecap="round"/>
<path d="M58.3,32.2 C58.87,32.3 59.43,32.42 60,32.51 C61.33,32.73 62.67,32.88 64,33.08 C65.33,33.27 66.67,33.47 68,33.68 C69.33,33.88 70.67,34.09 72,34.31 C73.33,34.52 74.67,34.74 76,34.97 C77.33,35.19 78.67,35.42 80,35.65 C81.33,35.88 82.67,36.12 84,36.36 C85.33,36.6 86.67,36.85 88,37.1 C89.33,37.35 90.67,37.6 92,37.85 C93.33,38.11 94.67,38.37 96,38.63 C97.33,38.9 98.67,39.16 100,39.43 C101.33,39.7 102.67,39.97 104,40.25 C105.33,40.52 106.67,40.8 108,41.08 C109.33,41.36 110.67,41.64 112,41.93 C113.33,42.21 114.67,42.5 116,42.79 C117.33,43.08 118.67,43.37 120,43.67 C121.33,43.96 122.67,44.26 124,44.55 C125.33,44.85 126.67,45.15 128,45.45 C129.33,45.75 130.67,46.05 132,46.35 C133.33,46.66 134.67,46.96 136,47.26 C137.33,47.57 138.67,47.87 140,48.18 C141.33,48.49 142.67,48.79 144,49.1 C145.33,49.41 146.67,49.71 148,50.02 C149.33,50.33 150.67,50.64 152,50.94 C153.33,51.25 154.67,51.56 156,51.87 C157.33,52.17 158.67,52.48 160,52.79 C161.33,53.09 162.67,53.4 164,53.7 C165.33,54.01 166.67,54.31 168,54.62 C169.34,54.93 170.68,55.23 172.03,55.55 C173.38,55.87 174.73,56.19 176.08,56.53 C177.43,56.87 178.78,57.22 180.13,57.59 C181.48,57.96 182.84,58.35 184.19,58.77 C185.54,59.18 186.89,59.61 188.24,60.08 C189.59,60.54 190.94,61.04 192.29,61.56 C193.64,62.09 195,62.65 196.35,63.25 C197.7,63.85 199.05,64.49 200.4,65.17 C201.75,65.85 203.1,66.58 204.45,67.36 C205.8,68.13 207.16,68.96 208.51,69.84 C209.86,70.72 211.21,71.66 212.56,72.65 C213.91,73.64 215.26,74.7 216.61,75.81 C217.96,76.93 219.32,78.12 220.67,79.37 C222.02,80.62 223.37,81.95 224.72,83.36 C226.07,84.77 227.42,86.27 228.77,87.88 C230.12,89.48 231.46,91.2 232.8,93.04 C234.13,94.87 235.47,96.84 236.8,98.94 C238.13,101.04 239.47,103.29 240.8,105.69 C242.13,108.09 243.47,110.66 244.8,113.39 C246.13,116.12 247.47,119.05 248.8,122.15 C250.13,125.25 251.47,128.6 252.8,132.07 C254.13,135.54 255.47,139.28 256.8,143.03 C258.13,146.78 259.47,150.71 260.8,154.59 C262.13,158.48 263.47,162.46 264.8,166.33 C266.13,170.2 267.47,174.1 268.8,177.8 C270.13,181.51 271.47,185.19 272.8,188.56 C274.13,191.94 275.47,195.21 276.8,198.13 C278.13,201.05 279.47,203.75 280.8,206.22 C282.13,208.69 283.47,210.95 284.8,213.06 C286.13,215.17 287.47,217.11 288.8,218.96 C290.13,220.81 291.47,222.55 292.8,224.21 C294.13,225.87 295.47,227.44 296.8,228.93 C298.13,230.42 299.47,231.83 300.8,233.17 C302.13,234.5 303.47,235.77 304.8,236.97 C306.13,238.17 307.47,239.31 308.8,240.39 C310.13,241.47 311.47,242.5 312.8,243.47 C314.13,244.45 315.47,245.38 316.8,246.26 C318.13,247.14 319.47,247.98 320.8,248.77 C322.13,249.56 323.47,250.31 324.8,251.02 C326.13,251.72 327.47,252.39 328.8,253.02 C330.13,253.65 331.47,254.24 332.8,254.79 C334.13,255.35 335.47,255.87 336.8,256.35 C338.13,256.83 339.47,257.29 340.8,257.71 C342.13,258.12 343.47,258.52 344.8,258.88 C346.13,259.23 347.47,259.57 348.8,259.87 C350.13,260.18 351.47,260.46 352.8,260.71 C354.13,260.97 355.47,261.2 356.8,261.41 C358.13,261.62 359.47,261.82 360.8,261.99 C362.13,262.16 363.47,262.31 364.8,262.45 C366.13,262.58 367.47,262.7 368.8,262.81 C370.13,262.91 371.47,263.01 372.8,263.09 C374.13,263.17 375.47,263.24 376.8,263.3 C378.13,263.36 379.47,263.41 380.8,263.46 C382.13,263.5 383.47,263.54 384.8,263.58 C386.13,263.61 387.47,263.64 388.8,263.67 C390.13,263.7 391.47,263.73 392.8,263.76 C394.13,263.79 395.47,263.82 396.8,263.85 C398.13,263.88 399.47,263.9 400.8,263.93 C402.13,263.96 403.47,263.99 404.8,264.02 C406.13,264.04 407.47,264.07 408.8,264.1 C410.13,264.13 411.47,264.15 412.8,264.18 C414.13,264.21 415.47,264.23 416.8,264.26 C418.13,264.29 419.47,264.31 420.8,264.34 C422.13,264.37 423.47,264.39 424.8,264.42 C426.13,264.44 427.47,264.48 428.8,264.49 C432.8,264.55 436.8,264.56 440.8,264.6 C470.8,264.93 500.8,265.81 530.8,266.2 C563.47,266.63 596.13,266.87 628.8,267.2" fill="none" stroke="#1c1f8f" stroke-width="1.4" stroke-linejoin="round" stroke-linecap="round"/>
<path d="M58.3,32.2 C58.87,32.31 59.43,32.42 60,32.52 C61.33,32.75 62.67,32.94 64,33.16 C65.33,33.37 66.67,33.59 68,33.81 C69.33,34.03 70.67,34.26 72,34.49 C73.33,34.71 74.67,34.94 76,35.18 C77.33,35.41 78.67,35.65 80,35.88 C81.33,36.12 82.67,36.36 84,36.6 C85.33,36.85 86.67,37.09 88,37.34 C89.33,37.59 90.67,37.84 92,38.09 C93.33,38.34 94.67,38.59 96,38.85 C97.33,39.1 98.67,39.36 100,39.62 C101.33,39.88 102.67,40.14 104,40.41 C105.33,40.67 106.67,40.93 108,41.2 C109.33,41.47 110.67,41.73 112,42 C113.33,42.27 114.67,42.54 116,42.81 C117.33,43.09 118.67,43.36 120,43.64 C121.33,43.91 122.67,44.19 124,44.46 C125.33,44.74 126.67,45.02 128,45.3 C129.33,45.57 130.67,45.85 132,46.14 C133.33,46.42 134.67,46.7 136,46.98 C137.33,47.26 138.67,47.54 140,47.83 C141.33,48.11 142.67,48.39 144,48.68 C145.33,48.96 146.67,49.25 148,49.53 C149.33,49.82 150.67,50.1 152,50.39 C153.33,50.67 154.67,50.96 156,51.25 C157.33,51.53 158.67,51.82 160,52.1 C161.33,52.39 162.67,52.67 164,52.96 C165.33,53.25 166.67,53.53 168,53.82 C169.33,54.1 170.67,54.38 172,54.67 C173.33,54.95 174.67,55.24 176,55.52 C177.33,55.8 178.67,56.08 180,56.37 C181.33,56.65 182.67,56.93 184,57.21 C185.33,57.49 186.67,57.77 188,58.05 C189.33,58.32 190.67,58.6 192,58.88 C193.33,59.15 194.67,59.43 196,59.7 C197.33,59.98 198.67,60.25 200,60.52 C201.33,60.79 202.67,61.06 204,61.33 C205.33,61.6 206.67,61.86 208,62.13 C209.33,62.39 210.67,62.66 212,62.92 C213.33,63.19 214.67,63.45 216,63.72 C217.33,63.98 218.67,64.25 220,64.52 C221.33,64.79 222.67,65.05 224,65.33 C225.33,65.6 226.67,65.87 228,66.15 C229.33,66.43 230.67,66.72 232,67 C233.33,67.29 234.67,67.58 236,67.88 C237.33,68.18 238.67,68.48 240,68.79 C241.33,69.1 242.67,69.42 244,69.74 C245.33,70.07 246.67,70.4 248,70.74 C249.33,71.08 250.67,71.43 252,71.79 C253.33,72.14 254.67,72.51 256,72.89 C257.33,73.27 258.67,73.65 260,74.05 C261.33,74.45 262.67,74.86 264,75.29 C265.33,75.71 266.67,76.14 268,76.59 C269.31,77.04 270.62,77.5 271.93,77.98 C273.22,78.45 274.51,78.95 275.8,79.46 C277.09,79.97 278.38,80.5 279.67,81.05 C280.96,81.6 282.24,82.17 283.53,82.76 C284.82,83.35 286.11,83.96 287.4,84.6 C288.69,85.23 289.98,85.89 291.27,86.58 C292.56,87.27 293.84,87.98 295.13,88.72 C296.42,89.46 297.71,90.23 299,91.02 C300.29,91.82 301.58,92.65 302.87,93.51 C304.16,94.37 305.44,95.26 306.73,96.19 C308.02,97.11 309.31,98.08 310.6,99.07 C311.89,100.07 313.18,101.1 314.47,102.17 C315.76,103.25 317.04,104.36 318.33,105.51 C319.62,106.65 320.91,107.85 322.2,109.08 C323.49,110.31 324.78,111.6 326.07,112.91 C327.38,114.24 328.69,115.6 330,117 C331.33,118.42 332.67,119.87 334,121.38 C335.33,122.88 336.67,124.44 338,126.04 C339.33,127.64 340.67,129.3 342,131.01 C343.33,132.72 344.67,134.48 346,136.29 C347.33,138.11 348.67,139.98 350,141.9 C351.33,143.82 352.67,145.8 354,147.82 C355.33,149.84 356.67,151.92 358,154.03 C359.33,156.14 360.67,158.31 362,160.51 C363.33,162.71 364.67,164.95 366,167.23 C367.33,169.51 368.67,171.83 370,174.18 C371.33,176.54 372.67,178.93 374,181.35 C375.33,183.76 376.67,186.22 378,188.69 C379.33,191.16 380.67,193.67 382,196.17 C383.33,198.66 384.67,201.17 386,203.65 C387.33,206.12 388.67,208.6 390,211.01 C391.33,213.42 392.67,215.81 394,218.12 C395.33,220.43 396.67,222.7 398,224.86 C399.33,227.02 400.67,229.12 402,231.09 C403.33,233.06 404.67,234.95 406,236.7 C407.33,238.45 408.67,240.1 410,241.63 C411.33,243.17 412.67,244.61 414,245.95 C415.33,247.28 416.67,248.53 418,249.68 C419.33,250.83 420.67,251.9 422,252.88 C423.33,253.86 424.67,254.77 426,255.59 C427.33,256.41 428.67,257.18 430,257.86 C431.33,258.55 432.67,259.18 434,259.74 C435.33,260.3 436.67,260.81 438,261.27 C439.33,261.72 440.67,262.13 442,262.49 C443.33,262.85 444.67,263.17 446,263.46 C447.33,263.74 448.67,263.99 450,264.21 C451.33,264.44 452.67,264.63 454,264.81 C455.33,264.98 456.67,265.14 458,265.28 C459.33,265.42 460.67,265.55 462,265.66 C463.33,265.76 464.67,265.86 466,265.94 C467.33,266.02 468.67,266.09 470,266.14 C471.33,266.19 472.67,266.24 474,266.26 C475.33,266.28 476.67,266.31 478,266.31 C479.33,266.31 480.67,266.3 482,266.29 C483.33,266.28 484.67,266.23 486,266.2 C490,266.13 494,266 498,266 C540.67,266 583.33,266.93 626,267.4" fill="none" stroke="#6a3352" stroke-width="1.2" stroke-linejoin="round" stroke-linecap="round"/>
<path d="M58.3,32.2 C58.87,32.31 59.43,32.42 60,32.52 C61.33,32.75 62.67,32.94 64,33.16 C65.33,33.37 66.67,33.59 68,33.81 C69.33,34.03 70.67,34.26 72,34.49 C73.33,34.71 74.67,34.94 76,35.18 C77.33,35.41 78.67,35.65 80,35.88 C81.33,36.12 82.67,36.36 84,36.6 C85.33,36.85 86.67,37.09 88,37.34 C89.33,37.59 90.67,37.84 92,38.09 C93.33,38.34 94.67,38.59 96,38.85 C97.33,39.1 98.67,39.36 100,39.62 C101.33,39.88 102.67,40.14 104,40.41 C105.33,40.67 106.67,40.93 108,41.2 C109.33,41.47 110.67,41.73 112,42 C113.33,42.27 114.67,42.54 116,42.81 C117.33,43.09 118.67,43.36 120,43.64 C121.33,43.91 122.67,44.19 124,44.46 C125.33,44.74 126.67,45.02 128,45.3 C129.33,45.57 130.67,45.85 132,46.14 C133.33,46.42 134.67,46.7 136,46.98 C137.33,47.26 138.67,47.54 140,47.83 C141.33,48.11 142.67,48.39 144,48.68 C145.33,48.96 146.67,49.25 148,49.53 C149.33,49.82 150.67,50.1 152,50.39 C153.33,50.67 154.67,50.96 156,51.25 C157.33,51.53 158.67,51.82 160,52.1 C161.33,52.39 162.67,52.67 164,52.96 C165.33,53.25 166.67,53.53 168,53.82 C169.33,54.1 170.67,54.38 172,54.67 C173.33,54.95 174.67,55.24 176,55.52 C177.33,55.8 178.67,56.08 180,56.37 C181.33,56.65 182.67,56.93 184,57.21 C185.33,57.49 186.67,57.77 188,58.05 C189.33,58.32 190.67,58.6 192,58.88 C193.33,59.15 194.67,59.43 196,59.7 C197.33,59.98 198.67,60.25 200,60.52 C201.33,60.79 202.67,61.06 204,61.33 C205.33,61.6 206.67,61.86 208,62.13 C209.33,62.39 210.67,62.66 212,62.92 C213.33,63.19 214.67,63.45 216,63.72 C217.33,63.98 218.67,64.25 220,64.52 C221.33,64.79 222.67,65.05 224,65.33 C225.33,65.6 226.67,65.87 228,66.15 C229.33,66.43 230.67,66.72 232,67 C233.33,67.29 234.67,67.58 236,67.88 C237.33,68.18 238.67,68.48 240,68.79 C241.33,69.1 242.67,69.42 244,69.74 C245.33,70.07 246.67,70.4 248,70.74 C249.33,71.08 250.67,71.43 252,71.79 C253.33,72.14 254.67,72.51 256,72.89 C257.33,73.27 258.67,73.65 260,74.05 C261.33,74.45 262.67,74.86 264,75.29 C265.33,75.71 266.67,76.15 268,76.59 C269.34,77.04 270.68,77.5 272.03,77.98 C273.38,78.46 274.73,78.95 276.08,79.46 C277.43,79.97 278.78,80.5 280.13,81.05 C281.48,81.6 282.84,82.17 284.19,82.76 C285.54,83.35 286.89,83.96 288.24,84.6 C289.59,85.23 290.94,85.89 292.29,86.58 C293.64,87.27 295,87.98 296.35,88.72 C297.7,89.46 299.05,90.23 300.4,91.02 C301.75,91.82 303.1,92.65 304.45,93.51 C305.8,94.37 307.16,95.26 308.51,96.19 C309.86,97.11 311.21,98.08 312.56,99.07 C313.91,100.07 315.26,101.1 316.61,102.17 C317.96,103.25 319.32,104.36 320.67,105.51 C322.02,106.65 323.37,107.85 324.72,109.08 C326.07,110.31 327.42,111.58 328.77,112.91 C330.12,114.22 331.46,115.59 332.8,117 C334.13,118.41 335.47,119.87 336.8,121.38 C338.13,122.88 339.47,124.44 340.8,126.04 C342.13,127.64 343.47,129.3 344.8,131.01 C346.13,132.72 347.47,134.48 348.8,136.29 C350.13,138.11 351.47,139.98 352.8,141.9 C354.13,143.82 355.47,145.8 356.8,147.82 C358.13,149.84 359.47,151.92 360.8,154.03 C362.13,156.14 363.47,158.31 364.8,160.51 C366.13,162.71 367.47,164.95 368.8,167.23 C370.13,169.51 371.47,171.83 372.8,174.18 C374.13,176.54 375.47,178.93 376.8,181.35 C378.13,183.76 379.47,186.22 380.8,188.69 C382.13,191.16 383.47,193.67 384.8,196.17 C386.13,198.66 387.47,201.17 388.8,203.65 C390.13,206.12 391.47,208.6 392.8,211.01 C394.13,213.42 395.47,215.81 396.8,218.12 C398.13,220.43 399.47,222.7 400.8,224.86 C402.13,227.02 403.47,229.12 404.8,231.09 C406.13,233.06 407.47,234.95 408.8,236.7 C410.13,238.45 411.47,240.1 412.8,241.63 C414.13,243.17 415.47,244.61 416.8,245.95 C418.13,247.28 419.47,248.53 420.8,249.68 C422.13,250.83 423.47,251.9 424.8,252.88 C426.13,253.86 427.47,254.77 428.8,255.59 C430.13,256.41 431.47,257.18 432.8,257.86 C434.13,258.55 435.47,259.18 436.8,259.74 C438.13,260.3 439.47,260.81 440.8,261.27 C442.13,261.72 443.47,262.13 444.8,262.49 C446.13,262.85 447.47,263.17 448.8,263.46 C450.13,263.74 451.47,263.99 452.8,264.21 C454.13,264.44 455.47,264.63 456.8,264.81 C458.13,264.98 459.47,265.14 460.8,265.28 C462.13,265.42 463.47,265.55 464.8,265.66 C466.13,265.76 467.47,265.86 468.8,265.94 C470.13,266.02 471.47,266.09 472.8,266.14 C474.13,266.19 475.47,266.24 476.8,266.26 C478.13,266.28 479.47,266.31 480.8,266.31 C482.13,266.31 483.47,266.3 484.8,266.29 C486.13,266.28 487.47,266.23 488.8,266.2 C492.8,266.13 496.8,266 500.8,266 C543.47,266 586.13,266.93 628.8,267.4" fill="none" stroke="#3f1530" stroke-width="1.2" stroke-linejoin="round" stroke-linecap="round"/>
<path d="M58.3,32.2 C58.87,32.34 59.43,32.49 60,32.61 C61.33,32.88 62.67,33.05 64,33.27 C65.33,33.5 66.67,33.72 68,33.95 C69.33,34.17 70.67,34.4 72,34.63 C73.33,34.86 74.67,35.09 76,35.32 C77.33,35.56 78.67,35.79 80,36.02 C81.33,36.26 82.67,36.5 84,36.73 C85.33,36.97 86.67,37.21 88,37.45 C89.33,37.69 90.67,37.93 92,38.18 C93.33,38.42 94.67,38.67 96,38.91 C97.33,39.16 98.67,39.41 100,39.65 C101.33,39.9 102.67,40.15 104,40.4 C105.33,40.66 106.67,40.91 108,41.16 C109.33,41.42 110.67,41.67 112,41.93 C113.33,42.18 114.67,42.44 116,42.7 C117.33,42.96 118.67,43.22 120,43.48 C121.33,43.74 122.67,44 124,44.26 C125.33,44.53 126.67,44.79 128,45.06 C129.33,45.32 130.67,45.59 132,45.86 C133.33,46.12 134.67,46.39 136,46.66 C137.33,46.93 138.67,47.2 140,47.47 C141.33,47.75 142.67,48.02 144,48.29 C145.33,48.57 146.67,48.84 148,49.12 C149.33,49.39 150.67,49.67 152,49.95 C153.33,50.22 154.67,50.5 156,50.78 C157.33,51.06 158.67,51.34 160,51.62 C161.33,51.91 162.67,52.19 164,52.47 C165.33,52.75 166.67,53.04 168,53.32 C169.33,53.61 170.67,53.89 172,54.18 C173.33,54.47 174.67,54.75 176,55.04 C177.33,55.33 178.67,55.62 180,55.91 C181.33,56.2 182.67,56.49 184,56.78 C185.33,57.07 186.67,57.36 188,57.65 C189.33,57.94 190.67,58.24 192,58.53 C193.33,58.82 194.67,59.12 196,59.41 C197.33,59.71 198.67,60 200,60.3 C201.33,60.6 202.67,60.89 204,61.19 C205.33,61.49 206.67,61.79 208,62.09 C209.33,62.38 210.67,62.68 212,62.98 C213.33,63.28 214.67,63.58 216,63.88 C217.33,64.18 218.67,64.49 220,64.79 C221.33,65.09 222.67,65.39 224,65.69 C225.33,66 226.67,66.3 228,66.6 C229.33,66.91 230.67,67.21 232,67.52 C233.33,67.82 234.67,68.12 236,68.43 C237.33,68.73 238.67,69.05 240,69.35 C241.33,69.64 242.67,69.93 244,70.22 C245.33,70.51 246.67,70.8 248,71.09 C249.33,71.38 250.67,71.68 252,71.97 C253.33,72.26 254.67,72.55 256,72.84 C257.33,73.14 258.67,73.43 260,73.72 C261.33,74.02 262.67,74.31 264,74.6 C265.33,74.9 266.67,75.19 268,75.48 C269.33,75.78 270.67,76.07 272,76.37 C273.33,76.66 274.67,76.95 276,77.25 C277.33,77.54 278.67,77.84 280,78.13 C281.33,78.43 282.67,78.72 284,79.01 C285.33,79.31 286.67,79.6 288,79.9 C289.33,80.19 290.67,80.49 292,80.78 C293.33,81.08 294.67,81.37 296,81.67 C297.33,81.96 298.67,82.25 300,82.55 C301.33,82.85 302.67,83.17 304,83.48 C305.33,83.79 306.67,84.1 308,84.41 C309.33,84.73 310.67,85.04 312,85.36 C313.33,85.68 314.67,86 316,86.33 C317.33,86.66 318.67,87 320,87.34 C321.33,87.69 322.67,88.04 324,88.4 C325.33,88.76 326.67,89.13 328,89.51 C329.33,89.9 330.67,90.29 332,90.7 C333.33,91.11 334.67,91.53 336,91.97 C337.33,92.41 338.67,92.86 340,93.33 C341.33,93.8 342.67,94.29 344,94.8 C345.33,95.31 346.67,95.83 348,96.38 C349.33,96.93 350.67,97.5 352,98.09 C353.33,98.69 354.67,99.3 356,99.94 C357.33,100.59 358.67,101.25 360,101.95 C361.33,102.64 362.67,103.36 364,104.11 C365.33,104.86 366.67,105.64 368,106.45 C369.33,107.25 370.67,108.09 372,108.97 C373.33,109.84 374.67,110.74 376,111.68 C377.33,112.62 378.67,113.56 380,114.61 C381.33,115.66 382.67,116.85 384,118.03 C385.33,119.21 386.67,120.44 388,121.68 C389.31,122.91 390.63,124.16 391.94,125.44 C393.23,126.7 394.53,127.98 395.82,129.31 C397.11,130.64 398.41,132.02 399.7,133.44 C400.99,134.86 402.29,136.33 403.58,137.84 C404.87,139.35 406.17,140.91 407.46,142.51 C408.75,144.1 410.05,145.75 411.34,147.44 C412.63,149.13 413.93,150.87 415.22,152.65 C416.51,154.43 417.81,156.29 419.1,158.14 C420.43,160.04 421.77,161.93 423.1,163.9 C424.43,165.86 425.77,167.88 427.1,169.93 C428.43,171.99 429.77,174.1 431.1,176.25 C432.43,178.4 433.77,180.62 435.1,182.85 C436.43,185.09 437.77,187.38 439.1,189.67 C440.43,191.96 441.77,194.29 443.1,196.6 C444.43,198.91 445.77,201.24 447.1,203.54 C448.43,205.83 449.77,208.12 451.1,210.36 C452.43,212.59 453.77,214.81 455.1,216.95 C456.43,219.1 457.77,221.2 459.1,223.22 C460.43,225.23 461.77,227.19 463.1,229.08 C464.43,230.96 465.77,232.78 467.1,234.53 C468.43,236.28 469.77,237.96 471.1,239.57 C472.43,241.18 473.77,242.73 475.1,244.2 C476.43,245.67 477.77,247.08 479.1,248.42 C480.43,249.75 481.77,251.02 483.1,252.21 C484.43,253.41 485.77,254.54 487.1,255.59 C488.43,256.64 489.77,257.64 491.1,258.55 C492.43,259.46 493.77,260.32 495.1,261.08 C496.43,261.85 497.77,262.57 499.1,263.19 C500.43,263.81 501.77,264.39 503.1,264.87 C504.43,265.36 505.77,265.8 507.1,266.16 C508.43,266.51 509.77,266.84 511.1,267.07 C512.43,267.31 513.77,267.53 515.1,267.65 C516.43,267.77 517.77,267.91 519.1,267.91 C520.43,267.91 521.77,267.9 523.1,267.89 C528.43,267.86 533.77,266.6 539.1,266.6 C568.43,266.6 597.77,267.13 627.1,267.4" fill="none" stroke="#e0941e" stroke-width="1.2" stroke-linejoin="round" stroke-linecap="round"/>
<path d="M58.3,32.2 C58.87,32.34 59.43,32.49 60,32.61 C61.33,32.88 62.67,33.05 64,33.27 C65.33,33.5 66.67,33.72 68,33.95 C69.33,34.17 70.67,34.4 72,34.63 C73.33,34.86 74.67,35.09 76,35.32 C77.33,35.56 78.67,35.79 80,36.02 C81.33,36.26 82.67,36.5 84,36.73 C85.33,36.97 86.67,37.21 88,37.45 C89.33,37.69 90.67,37.93 92,38.18 C93.33,38.42 94.67,38.67 96,38.91 C97.33,39.16 98.67,39.41 100,39.65 C101.33,39.9 102.67,40.15 104,40.4 C105.33,40.66 106.67,40.91 108,41.16 C109.33,41.42 110.67,41.67 112,41.93 C113.33,42.18 114.67,42.44 116,42.7 C117.33,42.96 118.67,43.22 120,43.48 C121.33,43.74 122.67,44 124,44.26 C125.33,44.53 126.67,44.79 128,45.06 C129.33,45.32 130.67,45.59 132,45.86 C133.33,46.12 134.67,46.39 136,46.66 C137.33,46.93 138.67,47.2 140,47.47 C141.33,47.75 142.67,48.02 144,48.29 C145.33,48.57 146.67,48.84 148,49.12 C149.33,49.39 150.67,49.67 152,49.95 C153.33,50.22 154.67,50.5 156,50.78 C157.33,51.06 158.67,51.34 160,51.62 C161.33,51.91 162.67,52.19 164,52.47 C165.33,52.75 166.67,53.04 168,53.32 C169.33,53.61 170.67,53.89 172,54.18 C173.33,54.47 174.67,54.75 176,55.04 C177.33,55.33 178.67,55.62 180,55.91 C181.33,56.2 182.67,56.49 184,56.78 C185.33,57.07 186.67,57.36 188,57.65 C189.33,57.94 190.67,58.24 192,58.53 C193.33,58.82 194.67,59.12 196,59.41 C197.33,59.71 198.67,60 200,60.3 C201.33,60.6 202.67,60.89 204,61.19 C205.33,61.49 206.67,61.79 208,62.09 C209.33,62.38 210.67,62.68 212,62.98 C213.33,63.28 214.67,63.58 216,63.88 C217.33,64.18 218.67,64.49 220,64.79 C221.33,65.09 222.67,65.39 224,65.69 C225.33,66 226.67,66.3 228,66.6 C229.33,66.91 230.67,67.21 232,67.52 C233.33,67.82 234.67,68.12 236,68.43 C237.33,68.73 238.67,69.05 240,69.35 C241.33,69.64 242.67,69.93 244,70.22 C245.33,70.51 246.67,70.8 248,71.09 C249.33,71.38 250.67,71.68 252,71.97 C253.33,72.26 254.67,72.55 256,72.84 C257.33,73.14 258.67,73.43 260,73.72 C261.33,74.02 262.67,74.31 264,74.6 C265.33,74.9 266.67,75.19 268,75.48 C269.33,75.78 270.67,76.07 272,76.37 C273.33,76.66 274.67,76.95 276,77.25 C277.33,77.54 278.67,77.84 280,78.13 C281.33,78.43 282.67,78.72 284,79.01 C285.33,79.31 286.67,79.6 288,79.9 C289.33,80.19 290.67,80.49 292,80.78 C293.33,81.08 294.67,81.37 296,81.67 C297.33,81.96 298.67,82.25 300,82.55 C301.33,82.85 302.67,83.17 304,83.48 C305.33,83.79 306.67,84.1 308,84.41 C309.33,84.73 310.67,85.04 312,85.36 C313.33,85.68 314.67,86 316,86.33 C317.33,86.66 318.67,87 320,87.34 C321.33,87.69 322.67,88.04 324,88.4 C325.33,88.76 326.67,89.13 328,89.51 C329.33,89.9 330.67,90.29 332,90.7 C333.33,91.11 334.67,91.53 336,91.97 C337.33,92.41 338.67,92.86 340,93.33 C341.33,93.8 342.67,94.29 344,94.8 C345.33,95.31 346.67,95.83 348,96.38 C349.33,96.93 350.67,97.5 352,98.09 C353.33,98.69 354.67,99.3 356,99.94 C357.33,100.59 358.67,101.25 360,101.95 C361.33,102.64 362.67,103.36 364,104.11 C365.33,104.86 366.67,105.64 368,106.45 C369.33,107.25 370.67,108.09 372,108.97 C373.33,109.84 374.67,110.74 376,111.68 C377.33,112.62 378.67,113.56 380,114.61 C381.33,115.66 382.67,116.85 384,118.03 C385.33,119.21 386.67,120.46 388,121.68 C389.35,122.93 390.71,124.18 392.06,125.44 C393.43,126.72 394.81,127.98 396.18,129.31 C397.55,130.64 398.93,132.02 400.3,133.44 C401.67,134.86 403.05,136.33 404.42,137.84 C405.79,139.35 407.17,140.91 408.54,142.51 C409.91,144.1 411.29,145.75 412.66,147.44 C414.03,149.13 415.41,150.87 416.78,152.65 C418.15,154.43 419.53,156.24 420.9,158.14 C422.23,159.98 423.57,161.93 424.9,163.9 C426.23,165.86 427.57,167.88 428.9,169.93 C430.23,171.99 431.57,174.1 432.9,176.25 C434.23,178.4 435.57,180.62 436.9,182.85 C438.23,185.09 439.57,187.38 440.9,189.67 C442.23,191.96 443.57,194.29 444.9,196.6 C446.23,198.91 447.57,201.24 448.9,203.54 C450.23,205.83 451.57,208.12 452.9,210.36 C454.23,212.59 455.57,214.81 456.9,216.95 C458.23,219.1 459.57,221.2 460.9,223.22 C462.23,225.23 463.57,227.19 464.9,229.08 C466.23,230.96 467.57,232.78 468.9,234.53 C470.23,236.28 471.57,237.96 472.9,239.57 C474.23,241.18 475.57,242.73 476.9,244.2 C478.23,245.67 479.57,247.08 480.9,248.42 C482.23,249.75 483.57,251.02 484.9,252.21 C486.23,253.41 487.57,254.54 488.9,255.59 C490.23,256.64 491.57,257.64 492.9,258.55 C494.23,259.46 495.57,260.32 496.9,261.08 C498.23,261.85 499.57,262.57 500.9,263.19 C502.23,263.81 503.57,264.39 504.9,264.87 C506.23,265.36 507.57,265.8 508.9,266.16 C510.23,266.51 511.57,266.84 512.9,267.07 C514.23,267.31 515.57,267.53 516.9,267.65 C518.23,267.77 519.57,267.91 520.9,267.91 C522.23,267.91 523.57,267.9 524.9,267.89 C530.23,267.86 535.57,266.6 540.9,266.6 C570.23,266.6 599.57,267.13 628.9,267.4" fill="none" stroke="#e0941e" stroke-width="1.2" stroke-linejoin="round" stroke-linecap="round"/>
<path d="M58.3,32.2 C58.87,32.22 59.43,32.23 60,32.26 C61.33,32.33 62.67,32.8 64,33.07 C65.33,33.33 66.67,33.6 68,33.87 C69.33,34.14 70.67,34.4 72,34.67 C73.33,34.93 74.67,35.2 76,35.46 C77.33,35.73 78.67,35.99 80,36.26 C81.33,36.52 82.67,36.79 84,37.05 C85.33,37.31 86.67,37.57 88,37.84 C89.33,38.1 90.67,38.36 92,38.62 C93.33,38.88 94.67,39.15 96,39.41 C97.33,39.67 98.67,39.93 100,40.19 C101.33,40.45 102.67,40.71 104,40.97 C105.33,41.23 106.67,41.49 108,41.75 C109.33,42.01 110.67,42.27 112,42.53 C113.33,42.79 114.67,43.05 116,43.31 C117.33,43.57 118.67,43.83 120,44.09 C121.33,44.35 122.67,44.61 124,44.87 C125.33,45.13 126.67,45.39 128,45.65 C129.33,45.91 130.67,46.17 132,46.43 C133.33,46.69 134.67,46.95 136,47.21 C137.33,47.47 138.67,47.73 140,47.99 C141.33,48.26 142.67,48.52 144,48.78 C145.33,49.04 146.67,49.3 148,49.56 C149.33,49.83 150.67,50.09 152,50.35 C153.33,50.62 154.67,50.88 156,51.14 C157.33,51.41 158.67,51.67 160,51.94 C161.33,52.2 162.67,52.47 164,52.73 C165.33,53 166.67,53.26 168,53.53 C169.33,53.8 170.67,54.07 172,54.33 C173.33,54.6 174.67,54.87 176,55.14 C177.33,55.41 178.67,55.68 180,55.95 C181.33,56.22 182.67,56.49 184,56.77 C185.33,57.04 186.67,57.31 188,57.59 C189.33,57.86 190.67,58.13 192,58.41 C193.33,58.69 194.67,58.96 196,59.24 C197.33,59.52 198.67,59.8 200,60.07 C201.33,60.35 202.67,60.63 204,60.92 C205.33,61.2 206.67,61.48 208,61.76 C209.33,62.04 210.67,62.33 212,62.61 C213.33,62.9 214.67,63.19 216,63.47 C217.33,63.76 218.67,64.05 220,64.34 C221.33,64.63 222.67,64.92 224,65.21 C225.33,65.51 226.67,65.8 228,66.09 C229.33,66.39 230.67,66.68 232,66.98 C233.33,67.28 234.67,67.58 236,67.88 C237.33,68.18 238.67,68.48 240,68.78 C241.33,69.09 242.67,69.39 244,69.7 C245.33,70 246.67,70.31 248,70.62 C249.33,70.93 250.67,71.24 252,71.55 C253.33,71.86 254.67,72.17 256,72.49 C257.33,72.8 258.67,73.12 260,73.44 C261.33,73.76 262.67,74.08 264,74.4 C265.33,74.72 266.67,75.04 268,75.37 C269.33,75.69 270.67,76.02 272,76.35 C273.33,76.68 274.67,77.01 276,77.34 C277.33,77.67 278.67,78 280,78.34 C281.33,78.68 282.67,79.01 284,79.35 C285.33,79.69 286.67,80.03 288,80.38 C289.33,80.72 290.67,81.07 292,81.41 C293.33,81.76 294.67,82.11 296,82.46 C297.33,82.81 298.67,83.17 300,83.52 C301.33,83.88 302.67,84.24 304,84.6 C305.33,84.96 306.67,85.32 308,85.68 C309.33,86.05 310.67,86.41 312,86.78 C313.33,87.15 314.67,87.52 316,87.9 C317.33,88.27 318.67,88.65 320,89.02 C321.33,89.4 322.67,89.78 324,90.16 C325.33,90.55 326.67,90.93 328,91.32 C329.33,91.71 330.67,92.1 332,92.49 C333.33,92.89 334.67,93.29 336,93.7 C337.33,94.11 338.67,94.53 340,94.97 C341.33,95.4 342.67,95.84 344,96.3 C345.33,96.76 346.67,97.24 348,97.73 C349.33,98.23 350.67,98.74 352,99.27 C353.33,99.81 354.67,100.36 356,100.94 C357.33,101.52 358.67,102.13 360,102.76 C361.33,103.4 362.67,104.06 364,104.75 C365.33,105.44 366.67,106.17 368,106.93 C369.33,107.69 370.67,108.48 372,109.31 C373.33,110.14 374.67,111.01 376,111.92 C377.33,112.83 378.67,113.78 380,114.78 C381.33,115.77 382.67,116.81 384,117.9 C385.33,118.99 386.67,120.12 388,121.35 C389.33,122.57 390.67,123.87 392,125.28 C393.33,126.69 394.67,128.21 396,129.86 C397.33,131.51 398.67,133.3 400,135.25 C401.33,137.19 402.67,139.32 404,141.61 C405.33,143.9 406.67,146.43 408,149.08 C409.33,151.72 410.67,154.59 412,157.55 C413.33,160.52 414.67,163.67 416,166.91 C417.33,170.14 418.67,173.53 420,176.99 C421.33,180.45 422.67,184.03 424,187.66 C425.33,191.28 426.67,195.05 428,198.75 C429.33,202.46 430.67,206.26 432,209.88 C433.33,213.49 434.67,217.13 436,220.46 C437.33,223.79 438.67,227.04 440,229.92 C441.33,232.8 442.67,235.48 444,237.87 C445.33,240.26 446.67,242.46 448,244.41 C449.33,246.36 450.67,248.14 452,249.7 C453.33,251.26 454.67,252.67 456,253.89 C457.33,255.12 458.67,256.22 460,257.16 C461.33,258.11 462.67,258.95 464,259.67 C465.33,260.39 466.67,261.02 468,261.57 C469.33,262.11 470.67,262.59 472,263.02 C473.33,263.45 474.67,263.84 476,264.19 C477.33,264.55 478.67,264.89 480,265.19 C481.33,265.49 482.67,265.77 484,266.02 C485.33,266.27 486.67,266.5 488,266.69 C489.33,266.89 490.67,267.08 492,267.23 C493.33,267.38 494.67,267.62 496,267.62 C497.33,267.62 498.67,265.8 500,265.8 C513.33,265.8 526.67,266.43 540,266.6 C569.33,266.98 598.67,267.13 628,267.4" fill="none" stroke="#22c81e" stroke-width="1.4" stroke-linejoin="round" stroke-linecap="round"/>
<path d="M470,265.6 C480,265.77 490,265.94 500,266.1 C513.33,266.31 526.67,266.54 540,266.7 C553.33,266.86 566.67,267 580,267.1 C596,267.22 612,267.3 628,267.4" fill="none" stroke="#3a1424" stroke-width="1.5" stroke-linejoin="round" stroke-linecap="round"/>
<path d="M560,267 C573.33,267.1 586.67,267.2 600,267.3" fill="none" stroke="#a02020" stroke-width="1" stroke-linejoin="round" stroke-linecap="round"/>
<path d="M58.3,32.2 C58.87,32.31 59.43,32.42 60,32.52 C61.33,32.75 62.67,32.94 64,33.16 C65.33,33.37 66.67,33.59 68,33.81 C69.33,34.03 70.67,34.26 72,34.49 C73.33,34.71 74.67,34.94 76,35.18 C77.33,35.41 78.67,35.65 80,35.88 C81.33,36.12 82.67,36.36 84,36.6 C85.33,36.85 86.67,37.09 88,37.34 C89.33,37.59 90.67,37.84 92,38.09 C93.33,38.34 94.67,38.59 96,38.85 C97.33,39.1 98.67,39.36 100,39.62 C101.33,39.88 102.67,40.14 104,40.41 C105.33,40.67 106.67,40.93 108,41.2 C109.33,41.47 110.67,41.73 112,42 C113.33,42.27 114.67,42.54 116,42.81 C117.33,43.09 118.67,43.36 120,43.64 C121.33,43.91 122.67,44.19 124,44.46 C125.33,44.74 126.67,45.02 128,45.3 C129.33,45.57 130.67,45.85 132,46.14 C133.33,46.42 134.67,46.7 136,46.98 C137.33,47.26 138.67,47.54 140,47.83 C141.33,48.11 142.67,48.39 144,48.68 C145.33,48.96 146.67,49.25 148,49.53 C149.33,49.82 150.67,50.1 152,50.39 C153.33,50.67 154.67,50.96 156,51.25 C157.33,51.53 158.67,51.82 160,52.1 C161.33,52.39 162.67,52.67 164,52.96 C165.33,53.25 166.67,53.53 168,53.82 C169.33,54.1 170.67,54.38 172,54.67 C173.33,54.95 174.67,55.24 176,55.52 C177.33,55.8 178.67,56.08 180,56.37 C181.33,56.65 182.67,56.93 184,57.21 C185.33,57.49 186.67,57.77 188,58.05 C189.33,58.32 190.67,58.6 192,58.88 C193.33,59.15 194.67,59.43 196,59.7 C197.33,59.98 198.67,60.25 200,60.52 C201.33,60.79 202.67,61.06 204,61.33 C205.33,61.6 206.67,61.86 208,62.13 C209.33,62.39 210.67,62.66 212,62.92 C213.33,63.19 214.67,63.45 216,63.72 C217.33,63.98 218.67,64.25 220,64.52 C221.33,64.79 222.67,65.05 224,65.33 C225.33,65.6 226.67,65.87 228,66.15 C229.33,66.43 230.67,66.72 232,67 C233.33,67.29 234.67,67.58 236,67.88 C237.33,68.18 238.67,68.48 240,68.79 C241.33,69.1 242.67,69.42 244,69.74 C245.33,70.07 246.67,70.41 248,70.74" fill="none" stroke="#1a2a10" stroke-width="0.9" stroke-linejoin="round" stroke-linecap="round" opacity="0.5"/>
<path d="M58.3,498.7 C63.87,499 69.43,499.32 75,499.6 C79.8,499.85 84.6,500.3 89.4,500.3 C96.27,500.3 103.13,499.87 110,499.6 C119.2,499.24 128.4,498.99 137.6,498.3 C141.73,497.99 145.87,497.1 150,496.6 C155,496 160,495.62 165,495 C170,494.38 175,493.93 180,492.8 C183.9,491.92 187.8,489.15 191.7,487.6 C195.6,486.05 199.5,484.4 203.4,483.4 C205.13,482.95 206.87,482.3 208.6,482.3 C210.37,482.3 212.13,483.21 213.9,484 C215.83,484.87 217.77,487.85 219.7,488.4 C222.03,489.07 224.37,489.15 226.7,489.6 C230.6,490.35 234.5,491.45 238.4,492.2 C242.3,492.95 246.2,494 250.1,494.2 C253.4,494.37 256.7,494.35 260,494.5 C263.33,494.65 266.67,495.08 270,495.5 C273.8,495.98 277.6,497 281.4,497.5 C285.93,498.09 290.47,498.82 295,498.9 C300,498.99 305,499.05 310,499.05 C422.17,499.05 534.33,499.02 646.5,499" fill="none" stroke="#a82018" stroke-width="1.1" stroke-linejoin="round" stroke-linecap="round"/>
<path d="M58.3,498.7 C63.87,499 69.43,499.32 75,499.6 C79.8,499.85 84.6,500.3 89.4,500.3 C96.27,500.3 103.13,499.87 110,499.6 C119.2,499.24 128.4,498.93 137.6,498.3 C141.73,498.02 145.87,497.27 150,497 C155,496.67 160,496.64 165,496.3 C170,495.96 175,495.44 180,494.5 C183.9,493.77 187.8,491.23 191.7,489.9 C195.6,488.57 199.5,487.33 203.4,486.4 C205.33,485.94 207.27,485.2 209.2,485.2 C210.77,485.2 212.33,486.14 213.9,486.9 C215.83,487.84 217.77,490.22 219.7,491.4 C221.27,492.36 222.83,493.53 224.4,493.8 C227.13,494.28 229.87,494.22 232.6,494.6 C236.1,495.08 239.6,496.85 243.1,497.2 C246.2,497.51 249.3,497.8 252.4,497.8 C254.93,497.8 257.47,496.8 260,496.8 C263.33,496.8 266.67,496.89 270,497 C275,497.16 280,498.39 285,498.6 C290,498.81 295,499 300,499 C415.5,499 531,499 646.5,499" fill="none" stroke="#a82018" stroke-width="1.1" stroke-linejoin="round" stroke-linecap="round"/>
<path d="M58.3,498.7 C63.87,499 69.43,499.32 75,499.6 C79.8,499.85 84.6,500.3 89.4,500.3 C96.27,500.3 103.13,499.87 110,499.6 C119.2,499.24 128.4,499.02 137.6,498.3 C141.73,497.98 145.87,497.25 150,496.3 C155.27,495.09 160.53,491.73 165.8,489.5 C167.87,488.62 169.93,487.79 172,486.9 C175.67,485.32 179.33,483.31 183,482 C184.83,481.34 186.67,480.3 188.5,480.3 C189.57,480.3 190.63,480.52 191.7,480.8 C192.63,481.04 193.57,481.85 194.5,482.8 C195.8,484.12 197.1,487.54 198.4,490.2 C199.87,493.2 201.33,496.06 202.8,500 C203.77,502.6 204.73,506.65 205.7,509.5 C207.77,515.59 209.83,522.66 211.9,525.7 C214.43,529.42 216.97,531.87 219.5,533.3 C221.03,534.17 222.57,535.2 224.1,535.2 C227.17,535.2 230.23,533.77 233.3,532.6 C237.4,531.03 241.5,527.76 245.6,524.9 C249.17,522.41 252.73,519.37 256.3,516.5 C258.33,514.87 260.37,513.14 262.4,511.5 C265.47,509.02 268.53,505.71 271.6,504.2 C275.2,502.43 278.8,500.97 282.4,500.4 C285.97,499.83 289.53,499.4 293.1,499.3 C298.73,499.15 304.37,499.05 310,499.05 C422.17,499 534.33,499.02 646.5,499" fill="none" stroke="#1e22a6" stroke-width="1.2" stroke-linejoin="round" stroke-linecap="round"/>
<path d="M58.3,498.7 C63.87,499 69.43,499.32 75,499.6 C79.8,499.85 84.6,500.3 89.4,500.3 C96.27,500.3 103.13,499.87 110,499.6 C119.2,499.24 128.4,498.96 137.6,498.3 C141.73,498 145.87,497.56 150,496.8 C155.27,495.84 160.53,492.12 165.8,490.3 C168.87,489.24 171.93,488.5 175,487.5 C177.67,486.63 180.33,485.23 183,484.7 C184.83,484.33 186.67,483.9 188.5,483.9 C189.5,483.9 190.5,484.27 191.5,484.7 C192.5,485.13 193.5,486.6 194.5,488 C195.77,489.77 197.03,492.47 198.3,495.5 C199.77,499 201.23,504.74 202.7,509 C204.73,514.9 206.77,521.56 208.8,525.7 C210.83,529.84 212.87,534 214.9,535.6 C217.47,537.62 220.03,539.5 222.6,539.5 C225.17,539.5 227.73,538.66 230.3,537.9 C233.87,536.84 237.43,534.25 241,531.8 C244.57,529.35 248.13,525.9 251.7,522.6 C255.27,519.3 258.83,515.14 262.4,511.9 C265.47,509.11 268.53,505.74 271.6,504.2 C275.2,502.4 278.8,500.97 282.4,500.4 C285.97,499.83 289.53,499.4 293.1,499.3 C298.73,499.15 304.37,499.05 310,499.05 C422.17,499 534.33,499.02 646.5,499" fill="none" stroke="#1e22a6" stroke-width="1.2" stroke-linejoin="round" stroke-linecap="round"/>
<path d="M202.9,422 C204.37,417.6 205.83,414.6 207.3,408.8 C207.87,406.56 208.43,401.81 209,400 C210.33,395.74 211.67,394.16 213,391.5 C214.33,388.84 215.67,386.12 217,384 C218.63,381.4 220.27,379.07 221.9,377.3 C223.27,375.82 224.63,374.08 226,373.6 C227.53,373.06 229.07,372.6 230.6,372.6 C231.73,372.6 232.87,373.11 234,373.6 C234.93,374.01 235.87,374.84 236.8,375.8 C238.27,377.31 239.73,379.97 241.2,382.8 C242.63,385.56 244.07,389.59 245.5,393.3 C247.27,397.88 249.03,402.95 250.8,408 C254,417.15 257.2,427.26 260.4,436.5 C263.9,446.61 267.4,456.7 270.9,466 C272.6,470.52 274.3,475.24 276,479 C277.8,482.98 279.6,486.7 281.4,489.5 C282.93,491.88 284.47,494.41 286,495.5 C287.97,496.9 289.93,498 291.9,498.3 C294.6,498.71 297.3,498.97 300,499 C306.67,499.07 313.33,499.07 320,499.1" fill="none" stroke="#6c2c8c" stroke-width="1.1" stroke-linejoin="round" stroke-linecap="round"/>
<path d="M202.9,422 C204.37,417.6 205.83,414.6 207.3,408.8 C207.87,406.56 208.43,401.69 209,400 C210.4,395.83 211.8,394.36 213.2,392 C214.63,389.58 216.07,387.42 217.5,385.5 C219.17,383.26 220.83,380.97 222.5,379.5 C223.67,378.47 224.83,377.48 226,377 C227.27,376.48 228.53,375.9 229.8,375.9 C230.87,375.9 231.93,376.24 233,376.6 C234,376.94 235,377.82 236,378.8 C237.33,380.11 238.67,382.45 240,385 C241.33,387.55 242.67,391.49 244,395 C245.73,399.56 247.47,404.53 249.2,409.5 C252.4,418.67 255.6,428.68 258.8,438 C262.3,448.19 265.8,458.74 269.3,468 C271.03,472.59 272.77,477.27 274.5,481 C276.27,484.8 278.03,488.46 279.8,491 C281.37,493.25 282.93,495.62 284.5,496.5 C286.43,497.59 288.37,498.45 290.3,498.6 C293.53,498.86 296.77,498.97 300,499 C306.67,499.07 313.33,499.07 320,499.1" fill="none" stroke="#6c2c8c" stroke-width="1.1" stroke-linejoin="round" stroke-linecap="round"/>
<path d="M202.9,422 C204.37,417.6 205.83,414.6 207.3,408.8 C207.87,406.56 208.43,401.56 209,400 C210.47,395.97 211.93,394.78 213.4,392.6 C214.93,390.32 216.47,388.35 218,386.5 C219.67,384.49 221.33,382.35 223,381 C224.67,379.65 226.33,377.8 228,377.8 C229.17,377.8 230.33,378.18 231.5,378.6 C232.67,379.02 233.83,380.24 235,381.5 C236.27,382.87 237.53,385.07 238.8,387.5 C240.03,389.86 241.27,393.28 242.5,396.5 C244.2,400.94 245.9,406.07 247.6,411 C250.8,420.27 254,430.18 257.2,439.5 C260.7,449.69 264.2,460.34 267.7,469.5 C269.47,474.12 271.23,478.8 273,482.5 C274.73,486.13 276.47,489.71 278.2,492 C279.8,494.12 281.4,496.24 283,497 C285,497.95 287,498.72 289,498.8 C292.67,498.94 296.33,498.97 300,499 C306.67,499.06 313.33,499.07 320,499.1" fill="none" stroke="#6c2c8c" stroke-width="1.1" stroke-linejoin="round" stroke-linecap="round"/>
<path d="M58.3,498.7 C63.87,499 69.43,499.32 75,499.6 C79.8,499.85 84.6,500.3 89.4,500.3 C96.27,500.3 103.13,499.87 110,499.6 C119.2,499.24 128.4,499.06 137.6,498.3 C141.73,497.96 145.87,497 150,495.9 C153.67,494.92 157.33,493.22 161,491.3 C164.67,489.38 168.33,486.65 172,483.6 C174.57,481.46 177.13,479.06 179.7,475.9 C181.8,473.31 183.9,469.61 186,466 C187.93,462.67 189.87,459.47 191.8,455 C193.67,450.69 195.53,444.05 197.4,438.5 C199.23,433.05 201.07,427.5 202.9,422 C204.37,417.6 205.83,413.11 207.3,408.8 C209.6,402.04 211.9,395.29 214.2,389 C216.2,383.53 218.2,377.36 220.2,373.3 C222,369.65 223.8,367.1 225.6,364.3 C227.73,360.98 229.87,357.31 232,355 C234.33,352.47 236.67,350.04 239,349 C241.33,347.96 243.67,346.9 246,346.9 C248.52,346.9 251.05,347.11 253.57,347.5 C255.21,347.75 256.86,349.65 258.5,351.4 C259.97,352.96 261.43,355.57 262.9,358.4 C264.47,361.42 266.03,365.52 267.6,370 C268.77,373.34 269.93,377.01 271.1,381.7 C272,385.31 272.9,390.35 273.8,395 C274.6,399.13 275.4,403.43 276.2,408 C277.03,412.76 277.87,418.1 278.7,423.1 C279.67,428.9 280.63,433.92 281.6,440.4 C282.37,445.54 283.13,452.66 283.9,457.8 C284.87,464.28 285.83,470.59 286.8,475.1 C288.13,481.32 289.47,487.77 290.8,490.1 C292.93,493.83 295.07,496.26 297.2,497 C300.27,498.06 303.33,498.71 306.4,498.8 C313.67,499.01 320.93,499.1 328.2,499.1 C433.7,499.1 539.2,499.03 644.7,499" fill="none" stroke="#2ad21e" stroke-width="1.2" stroke-linejoin="round" stroke-linecap="round"/>
<path d="M58.3,498.7 C63.87,499 69.43,499.32 75,499.6 C79.8,499.85 84.6,500.3 89.4,500.3 C96.27,500.3 103.13,499.87 110,499.6 C119.2,499.24 128.4,499.06 137.6,498.3 C141.73,497.96 145.87,497 150,495.9 C153.67,494.92 157.33,493.22 161,491.3 C164.67,489.38 168.33,486.65 172,483.6 C174.57,481.46 177.13,479.06 179.7,475.9 C181.8,473.31 183.9,469.61 186,466 C187.93,462.67 189.87,459.47 191.8,455 C193.67,450.69 195.53,444.05 197.4,438.5 C199.23,433.05 201.07,427.5 202.9,422 C204.37,417.6 205.83,413.11 207.3,408.8 C209.6,402.04 211.9,395.29 214.2,389 C216.2,383.53 218.2,377.36 220.2,373.3 C222,369.65 223.8,367.1 225.6,364.3 C227.73,360.98 229.87,357.31 232,355 C234.33,352.47 236.67,350.04 239,349 C241.33,347.96 243.67,346.9 246,346.9 C248.73,346.9 251.47,347.12 254.2,347.5 C256.13,347.77 258.07,349.58 260,351.4 C261.57,352.87 263.13,355.49 264.7,358.4 C266.27,361.31 267.83,365.52 269.4,370 C270.57,373.34 271.73,377.01 272.9,381.7 C273.8,385.31 274.7,390.35 275.6,395 C276.4,399.13 277.2,403.43 278,408 C278.83,412.76 279.67,418.1 280.5,423.1 C281.47,428.9 282.43,433.92 283.4,440.4 C284.17,445.54 284.93,452.66 285.7,457.8 C286.67,464.28 287.63,470.59 288.6,475.1 C289.93,481.32 291.27,487.77 292.6,490.1 C294.73,493.83 296.87,496.26 299,497 C302.07,498.06 305.13,498.71 308.2,498.8 C315.47,499.01 322.73,499.1 330,499.1 C435.5,499.1 541,499.03 646.5,499" fill="none" stroke="#2ad21e" stroke-width="1.2" stroke-linejoin="round" stroke-linecap="round"/>
<path d="M58.3,498.7 C63.87,499 69.43,499.32 75,499.6 C79.8,499.85 84.6,500.3 89.4,500.3 C96.27,500.3 103.13,499.87 110,499.6 C119.2,499.24 128.4,499.06 137.6,498.3 C141.73,497.96 145.87,497 150,495.9 C153.67,494.92 157.33,493.22 161,491.3 C164.67,489.38 168.33,486.65 172,483.6 C174.57,481.46 177.13,479.06 179.7,475.9 C181.8,473.31 183.9,469.61 186,466 C187.93,462.67 189.87,459.47 191.8,455 C193.67,450.69 195.53,444.05 197.4,438.5 C199.23,433.05 201.07,427.5 202.9,422 C204.37,417.6 205.83,413.11 207.3,408.8 C209.6,402.04 211.9,395.29 214.2,389 C216.2,383.53 218.2,377.36 220.2,373.3 C222,369.65 223.8,367.1 225.6,364.3 C227.73,360.98 229.87,357.31 232,355 C234.33,352.47 236.67,350.04 239,349 C241.33,347.96 243.67,346.9 246,346.9 C248.94,346.9 251.89,347.13 254.83,347.5 C257.05,347.78 259.28,349.53 261.5,351.4 C263.17,352.8 264.83,355.41 266.5,358.4 C268.07,361.21 269.63,365.52 271.2,370 C272.37,373.34 273.53,377.01 274.7,381.7 C275.6,385.31 276.5,390.35 277.4,395 C278.2,399.13 279,403.43 279.8,408 C280.63,412.76 281.47,418.1 282.3,423.1 C283.27,428.9 284.23,433.92 285.2,440.4 C285.97,445.54 286.73,452.66 287.5,457.8 C288.47,464.28 289.43,470.59 290.4,475.1 C291.73,481.32 293.07,487.77 294.4,490.1 C296.53,493.83 298.67,496.26 300.8,497 C303.87,498.06 306.93,498.71 310,498.8 C317.27,499.01 324.53,499.1 331.8,499.1 C437.3,499.1 542.8,499.03 648.3,499" fill="none" stroke="#2ad21e" stroke-width="1.2" stroke-linejoin="round" stroke-linecap="round"/>
<path d="M58.3,498.7 C63.87,499 69.43,499.32 75,499.6 C79.8,499.85 84.6,500.3 89.4,500.3 C96.27,500.3 103.13,499.87 110,499.6 C119.2,499.24 128.4,499.06 137.6,498.3 C141.73,497.96 145.87,497 150,495.9 C153.67,494.92 157.33,493.22 161,491.3 C164.67,489.38 168.33,486.65 172,483.6 C174.57,481.46 177.13,479.06 179.7,475.9 C181.8,473.31 183.9,469.61 186,466 C187.93,462.67 189.87,459.47 191.8,455 C193.67,450.69 195.53,444.05 197.4,438.5 C199.23,433.05 201.07,427.5 202.9,422 C204.37,417.6 205.83,413.11 207.3,408.8 C209.6,402.04 211.9,395.29 214.2,389 C216.2,383.53 218.2,377.36 220.2,373.3 C222,369.65 223.8,367.26 225.6,364.3 C227.73,360.79 229.87,356.55 232,353.9 C234.33,351 236.67,348.09 239,346.9 C241.33,345.71 243.67,344.5 246,344.5 C248.15,344.5 250.31,344.5 252.46,344.5 C254.1,344.5 255.74,345.67 257.38,346.8 C259.08,347.98 260.79,351.03 262.5,353.7 C264,356.04 265.5,359.05 267,362 C268.5,364.95 270,368.03 271.5,371.5 C273,374.97 274.5,378.7 276,383 C277.23,386.54 278.47,391.06 279.7,395 C282.93,405.33 286.17,413.94 289.4,425.4 C291.33,432.25 293.27,441.14 295.2,448.5 C297.1,455.74 299,463.55 300.9,469.3 C302.83,475.16 304.77,480.47 306.7,484.3 C308.63,488.13 310.57,491.55 312.5,493.6 C314.43,495.65 316.37,497.9 318.3,498.2 C321.7,498.72 325.1,498.99 328.5,499 C351.83,499.09 375.17,499.1 398.5,499.1 C480.67,499.1 562.83,499.03 645,499" fill="none" stroke="#d8581a" stroke-width="1.35" stroke-linejoin="round" stroke-linecap="round"/>
<path d="M58.3,498.7 C63.87,499 69.43,499.32 75,499.6 C79.8,499.85 84.6,500.3 89.4,500.3 C96.27,500.3 103.13,499.87 110,499.6 C119.2,499.24 128.4,499.06 137.6,498.3 C141.73,497.96 145.87,497 150,495.9 C153.67,494.92 157.33,493.22 161,491.3 C164.67,489.38 168.33,486.65 172,483.6 C174.57,481.46 177.13,479.06 179.7,475.9 C181.8,473.31 183.9,469.61 186,466 C187.93,462.67 189.87,459.47 191.8,455 C193.67,450.69 195.53,444.05 197.4,438.5 C199.23,433.05 201.07,427.5 202.9,422 C204.37,417.6 205.83,413.11 207.3,408.8 C209.6,402.04 211.9,395.29 214.2,389 C216.2,383.53 218.2,377.36 220.2,373.3 C222,369.65 223.8,367.26 225.6,364.3 C227.73,360.79 229.87,356.55 232,353.9 C234.33,351 236.67,348.09 239,346.9 C241.33,345.71 243.67,344.5 246,344.5 C248.51,344.5 251.02,344.5 253.54,344.5 C255.57,344.5 257.6,345.64 259.62,346.8 C261.58,347.92 263.54,350.86 265.5,353.7 C267,355.87 268.5,359.05 270,362 C271.5,364.95 273,368.03 274.5,371.5 C276,374.97 277.5,378.7 279,383 C280.23,386.54 281.47,391.06 282.7,395 C285.93,405.33 289.17,413.94 292.4,425.4 C294.33,432.25 296.27,441.14 298.2,448.5 C300.1,455.74 302,463.55 303.9,469.3 C305.83,475.16 307.77,480.47 309.7,484.3 C311.63,488.13 313.57,491.55 315.5,493.6 C317.43,495.65 319.37,497.9 321.3,498.2 C324.7,498.72 328.1,498.99 331.5,499 C354.83,499.09 378.17,499.1 401.5,499.1 C483.67,499.1 565.83,499.03 648,499" fill="none" stroke="#d8581a" stroke-width="1.35" stroke-linejoin="round" stroke-linecap="round"/>
<path d="M58.3,498.7 C63.87,499 69.43,499.32 75,499.6 C79.8,499.85 84.6,500.3 89.4,500.3 C96.27,500.3 103.13,499.87 110,499.6 C119.2,499.24 128.4,499.06 137.6,498.3 C141.73,497.96 145.87,497 150,495.9 C153.67,494.92 157.33,493.22 161,491.3 C164.67,489.38 168.33,486.65 172,483.6 C174.57,481.46 177.13,479.06 179.7,475.9 C181.8,473.31 183.9,469.61 186,466 C187.93,462.67 189.87,459.47 191.8,455 C193.67,450.69 195.53,444.05 197.4,438.5 C199.23,433.05 201.07,427.5 202.9,422 C204.37,417.6 205.83,413.2 207.3,408.8" fill="none" stroke="#6a1a0e" stroke-width="1.3" stroke-linejoin="round" stroke-linecap="round"/>
<path d="M58.3,498.7 C63.87,499 69.43,499.32 75,499.6 C79.8,499.85 84.6,500.3 89.4,500.3 C96.27,500.3 103.13,499.87 110,499.6 C119.2,499.24 128.4,498.99 137.6,498.3 C141.73,497.99 145.87,497.17 150,496.6" fill="none" stroke="#401a40" stroke-width="1.3" stroke-linejoin="round" stroke-linecap="round"/>
<path d="M300,499.3 H646.5" stroke="#b81818" stroke-width="1.6" fill="none"/>
<path d="M380,499 H470 M520,499 H590" stroke="#222" stroke-width="1.2" fill="none" opacity="0.6"/>
<line x1="242" y1="631.5" x2="242" y2="878.6" stroke="#444" stroke-width="1.4"/>
<line x1="263.5" y1="631.5" x2="263.5" y2="878.6" stroke="#444" stroke-width="1.4"/>
<line x1="366" y1="631.5" x2="366" y2="878.6" stroke="#444" stroke-width="1.4"/>
<line x1="415" y1="631.5" x2="415" y2="878.6" stroke="#444" stroke-width="1.4"/>
<line x1="447.2" y1="631.5" x2="447.2" y2="878.6" stroke="#444" stroke-width="1.4"/>
<path d="M29.5,855.6 C69.67,855.57 109.83,855.56 150,855.5 C183.33,855.45 216.67,855.17 250,854.6 C260,854.43 270,853.88 280,853.2 C289.73,852.54 299.47,851.19 309.2,849.6 C316.5,848.41 323.8,846.58 331.1,844.5 C337.43,842.69 343.77,840.35 350.1,837.6 C354.97,835.49 359.83,832.78 364.7,829.9 C369.8,826.89 374.9,823.45 380,819.6 C386.57,814.65 393.13,807.07 399.7,802.5 C404.8,798.95 409.9,796.22 415,793.5 C420.13,790.76 425.27,787.7 430.4,786 C432.93,785.16 435.47,784.3 438,784 C440.57,783.69 443.13,783.4 445.7,783.4 C448.13,783.4 450.57,784.55 453,785.5 C455.67,786.54 458.33,788.34 461,790.4 C464,792.72 467,796.39 470,800 C472.67,803.21 475.33,807.29 478,811 C481.4,815.73 484.8,820.42 488.2,825.4 C490.9,829.36 493.6,834.09 496.3,837.7 C499.73,842.29 503.17,846.8 506.6,849.9 C511.37,854.2 516.13,858.47 520.9,860.1 C526.33,861.95 531.77,863.69 537.2,863.7 C584.47,863.79 631.73,863.77 679,863.8" fill="none" stroke="#e0941e" stroke-width="1.35" stroke-linejoin="round" stroke-linecap="round"/>
<path d="M29.5,854.6 C69.67,854.5 109.83,854.46 150,854.3 C183.33,854.16 216.67,853.98 250,853.3 C260,853.09 270,852.07 280,851 C289.73,849.96 299.47,847.97 309.2,845.9 C316.5,844.35 323.8,842.58 331.1,840.1 C337.43,837.95 343.77,835.22 350.1,831.3 C354.97,828.28 359.83,823.53 364.7,818.2 C367.6,815.03 370.5,810.94 373.4,806.5 C376.03,802.46 378.67,797.47 381.3,792.5 C385.4,784.76 389.5,775.7 393.6,767.4 C397.67,759.17 401.73,748.91 405.8,742.9 C407.53,740.34 409.27,737.54 411,736.5 C412.67,735.5 414.33,734.5 416,734.5 C417.67,734.5 419.33,735.79 421,737 C423.1,738.53 425.2,742.3 427.3,746 C431.4,753.23 435.5,765.42 439.6,776.6 C443.67,787.69 447.73,802.93 451.8,813.4 C455.9,823.95 460,833.87 464.1,841 C466.73,845.58 469.37,850.07 472,852.5 C475.5,855.73 479,858.27 482.5,859.4 C489.63,861.7 496.77,863.52 503.9,863.6 C515.93,863.74 527.97,863.8 540,863.8 C586.33,863.8 632.67,863.8 679,863.8" fill="none" stroke="#22c81e" stroke-width="1.35" stroke-linejoin="round" stroke-linecap="round"/>
<path d="M29.5,851.2 C41.17,851.4 52.83,851.8 64.5,851.8 C71.8,851.8 79.1,850.92 86.4,850.5 C94.27,850.05 102.13,849.75 110,849.21 C111.33,849.12 112.67,849.01 114,848.89 C115.33,848.78 116.67,848.65 118,848.51 C119.33,848.37 120.67,848.21 122,848.05 C123.33,847.88 124.67,847.7 126,847.51 C127.33,847.31 128.67,847.1 130,846.88 C131.33,846.65 132.67,846.41 134,846.15 C135.33,845.9 136.67,845.62 138,845.33 C139.33,845.04 140.67,844.73 142,844.4 C143.33,844.07 144.67,843.72 146,843.35 C147.33,842.99 148.67,842.6 150,842.19 C151.33,841.78 152.67,841.35 154,840.89 C155.33,840.44 156.67,839.96 158,839.46 C159.33,838.96 160.67,838.44 162,837.89 C163.33,837.34 164.67,836.77 166,836.17 C167.33,835.57 168.67,834.95 170,834.3 C171.33,833.65 172.67,832.97 174,832.26 C175.33,831.56 176.67,830.82 178,830.06 C179.33,829.29 180.67,828.5 182,827.68 C183.33,826.85 184.67,826 186,825.11 C187.33,824.23 188.67,823.31 190,822.38 C191.33,821.44 192.67,820.48 194,819.5 C195.33,818.52 196.67,817.52 198,816.51 C199.33,815.5 200.67,814.47 202,813.45 C203.33,812.42 204.67,811.38 206,810.35 C207.33,809.32 208.67,808.28 210,807.25 C211.33,806.22 212.67,805.19 214,804.18 C215.33,803.17 216.67,802.16 218,801.18 C219.33,800.2 220.67,799.23 222,798.29 C223.33,797.34 224.67,796.42 226,795.53 C227.33,794.64 228.67,793.77 230,792.94 C231.33,792.12 232.67,791.32 234,790.57 C235.33,789.82 236.67,789.1 238,788.44 C239.33,787.78 240.67,787.15 242,786.59 C243.33,786.03 244.67,785.5 246,785.05 C247.33,784.61 248.67,784.18 250,783.87 C251.33,783.55 252.67,783.24 254,783.06 C255.33,782.89 256.67,782.68 258,782.68 C259.33,782.68 260.67,782.71 262,782.76 C263.33,782.8 264.67,783.1 266,783.37 C267.33,783.64 268.67,784.11 270,784.63 C271.33,785.15 272.67,785.87 274,786.67 C275.33,787.47 276.67,788.48 278,789.59 C279.33,790.7 280.67,792.09 282,793.49 C283.33,794.89 284.67,796.51 286,798.06 C287.33,799.6 288.67,801.26 290,802.74 C291.33,804.22 292.67,805.74 294,806.98 C295.33,808.23 296.67,809.35 298,810.32 C299.33,811.29 300.67,812.11 302,812.9 C303.33,813.69 304.67,814.36 306,815.08 C307.33,815.81 308.67,816.49 310,817.25 C311.33,818.01 312.67,818.82 314,819.65 C315.33,820.48 316.67,821.35 318,822.22 C319.33,823.09 320.67,823.99 322,824.88 C323.33,825.76 324.67,826.66 326,827.53 C327.33,828.4 328.67,829.27 330,830.09 C331.33,830.92 332.67,831.73 334,832.48 C335.33,833.22 336.67,833.95 338,834.59 C339.33,835.23 340.67,835.83 342,836.36 C343.33,836.89 344.67,837.37 346,837.81 C347.33,838.24 348.67,838.63 350,838.99 C351.33,839.34 352.67,839.66 354,839.96 C355.33,840.25 356.67,840.51 358,840.76 C359.33,841.02 360.67,841.24 362,841.47 C363.33,841.69 364.67,841.9 366,842.12 C367.33,842.34 368.67,842.54 370,842.77 C371.33,843 372.67,843.23 374,843.48 C375.33,843.73 376.67,844 378,844.29 C379.33,844.59 380.67,844.92 382,845.27 C383.33,845.62 384.67,846.01 386,846.41 C387.33,846.82 388.67,847.25 390,847.7 C391.33,848.14 392.67,848.61 394,849.08 C395.33,849.55 396.67,850.04 398,850.53 C399.33,851.02 400.67,851.52 402,852.01 C403.33,852.5 404.67,853 406,853.49 C407.33,853.98 408.67,854.46 410,854.93 C411.33,855.4 412.67,855.86 414,856.3 C415.33,856.74 416.67,857.16 418,857.56 C419.33,857.97 420.67,858.35 422,858.71 C423.33,859.08 424.67,859.43 426,859.76 C427.33,860.08 428.67,860.4 430,860.69 C431.33,860.98 432.67,861.26 434,861.52 C435.33,861.78 436.67,862.05 438,862.25 C441.6,862.8 445.2,863.57 448.8,863.6 C465.87,863.76 482.93,863.8 500,863.8 C559.67,863.8 619.33,863.8 679,863.8" fill="none" stroke="#a52222" stroke-width="1.3" stroke-linejoin="round" stroke-linecap="round"/>
<path d="M29.5,846.8 C45,846.8 60.5,846.8 76,846.8 C77.67,846.8 79.33,845.6 81,845.6 C87.33,845.6 93.67,845.6 100,845.6 C101.67,845.6 103.33,846.67 105,846.7 C109.33,846.77 113.67,846.8 118,846.8 C122,846.8 126,846.17 130,845.6 C133.33,845.12 136.67,844.18 140,843.2 C141.67,842.71 143.33,841.96 145,841.4 C146.67,840.84 148.33,840.34 150,839.8 C152.13,839.11 154.27,838.54 156.4,837.7 C157.6,837.23 158.8,836.65 160,836 C162.43,834.68 164.87,832.84 167.3,831.1 C169.73,829.36 172.17,827.73 174.6,825.5 C177.03,823.27 179.47,820.35 181.9,817.2 C182.93,815.86 183.97,814.39 185,812.7 C185.9,811.23 186.8,809.48 187.7,807.7 C189.17,804.79 190.63,801.63 192.1,798.2 C193.33,795.31 194.57,791.77 195.8,788.8 C197.23,785.35 198.67,782.47 200.1,779 C201.83,774.8 203.57,770.46 205.3,765.5 C206.97,760.73 208.63,754.75 210.3,749.6 C212.87,741.68 215.43,735.11 218,726.6 C219.53,721.52 221.07,715.42 222.6,709.8 C224.13,704.18 225.67,698.67 227.2,692.9 C228.23,689.01 229.27,684.31 230.3,681 C231.83,676.09 233.37,671.35 234.9,668.6 C235.93,666.75 236.97,665.32 238,664.3 C239,663.31 240,662.32 241,662 C242,661.68 243,661.4 244,661.4 C245,661.4 246,661.99 247,662.5 C248.07,663.05 249.13,664.15 250.2,665.3 C252.23,667.49 254.27,670.53 256.3,674.5 C258.33,678.47 260.37,684.95 262.4,691.4 C263.93,696.26 265.47,703.15 267,708.2 C269.07,715 271.13,720.16 273.2,726.6 C275.23,732.94 277.27,740.24 279.3,746.6 C281.47,753.37 283.63,759.94 285.8,766 C288.73,774.2 291.67,782.71 294.6,789 C297.53,795.29 300.47,800.29 303.4,805 C306.8,810.46 310.2,814.98 313.6,819.6 C317,824.22 320.4,828.71 323.8,832.8 C327.7,837.49 331.6,842.32 335.5,845.9 C338.9,849.02 342.3,852.01 345.7,853.9 C349.1,855.79 352.5,857.24 355.9,858.3 C359.3,859.36 362.7,860.28 366.1,860.8 C370.73,861.51 375.37,862.12 380,862.3 C403.33,863.23 426.67,863.68 450,863.7 C526.33,863.78 602.67,863.77 679,863.8" fill="none" stroke="#2a2a8a" stroke-width="1.3" stroke-linejoin="round" stroke-linecap="round"/>
<path d="M29.5,852.6 C54.33,852.6 79.17,852.6 104,852.6 C105.33,852.6 106.67,853.6 108,853.6 C111.33,853.6 114.67,853.6 118,853.6 C119.33,853.6 120.67,852.62 122,852.6 C131.33,852.43 140.67,852.5 150,852.4 C160,852.29 170,851.92 180,851.6 C186.67,851.39 193.33,851.21 200,850.84 C201.33,850.77 202.67,850.64 204,850.53 C205.33,850.42 206.67,850.31 208,850.19 C209.33,850.07 210.67,849.95 212,849.82 C213.33,849.7 214.67,849.57 216,849.43 C217.33,849.29 218.67,849.15 220,849.01 C221.33,848.86 222.67,848.71 224,848.55 C225.33,848.4 226.67,848.24 228,848.07 C229.33,847.9 230.67,847.73 232,847.55 C233.33,847.38 234.67,847.19 236,847.01 C237.33,846.82 238.67,846.62 240,846.42 C241.33,846.22 242.67,846.02 244,845.8 C245.33,845.59 246.67,845.37 248,845.13 C249.33,844.9 250.67,844.65 252,844.37 C253.33,844.1 254.67,843.81 256,843.49 C257.33,843.17 258.67,842.83 260,842.45 C261.33,842.07 262.67,841.66 264,841.21 C265.33,840.76 266.67,840.27 268,839.74 C269.33,839.21 270.67,838.63 272,838 C273.33,837.37 274.67,836.69 276,835.96 C277.33,835.22 278.67,834.42 280,833.57 C281.33,832.72 282.67,831.79 284,830.82 C285.33,829.85 286.67,828.8 288,827.71 C289.33,826.62 290.67,825.46 292,824.27 C293.33,823.07 294.67,821.8 296,820.5 C297.33,819.2 298.67,817.84 300,816.44 C301.33,815.04 302.67,813.59 304,812.1 C305.33,810.61 306.67,809.07 308,807.5 C309.33,805.93 310.67,804.31 312,802.67 C313.33,801.03 314.67,799.35 316,797.66 C317.33,795.98 318.67,794.26 320,792.56 C321.33,790.85 322.67,789.13 324,787.44 C325.33,785.74 326.67,784.05 328,782.39 C329.33,780.73 330.67,779.08 332,777.48 C333.33,775.89 334.67,774.31 336,772.81 C337.33,771.3 338.67,769.83 340,768.45 C341.33,767.06 342.67,765.71 344,764.47 C345.33,763.23 346.67,762.04 348,760.97 C349.33,759.9 350.67,758.89 352,758.02 C353.33,757.16 354.67,756.34 356,755.7 C357.33,755.06 358.67,754.45 360,754.07 C361.33,753.69 362.67,753.23 364,753.19 C365.33,753.16 366.67,753.13 368,753.13 C369.33,753.13 370.67,753.58 372,753.96 C373.33,754.33 374.67,755.02 376,755.73 C377.33,756.45 378.67,757.43 380,758.46 C381.33,759.5 382.67,760.74 384,762.05 C385.33,763.36 386.67,764.85 388,766.4 C389.33,767.94 390.67,769.63 392,771.38 C393.33,773.13 394.67,774.99 396,776.9 C397.33,778.8 398.67,780.81 400,782.84 C401.33,784.87 402.67,786.97 404,789.09 C405.33,791.21 406.67,793.38 408,795.55 C409.33,797.72 410.67,799.92 412,802.1 C413.33,804.29 414.67,806.49 416,808.65 C417.33,810.81 418.67,812.97 420,815.07 C421.33,817.18 422.67,819.26 424,821.27 C425.33,823.28 426.67,825.26 428,827.14 C429.33,829.02 430.67,830.85 432,832.56 C433.33,834.27 434.67,835.91 436,837.44 C437.33,838.97 438.67,840.41 440,841.76 C441.33,843.11 442.67,844.38 444,845.57 C445.33,846.76 446.67,847.88 448,848.93 C449.33,849.97 450.67,850.96 452,851.87 C453.33,852.79 454.67,853.65 456,854.45 C457.33,855.25 458.67,856.01 460,856.71 C461.33,857.42 462.67,858.08 464,858.69 C465.33,859.3 466.67,860.05 468,860.39 C474.87,862.14 481.73,863.51 488.6,863.6 C499.07,863.74 509.53,863.8 520,863.8 C573,863.8 626,863.8 679,863.8" fill="none" stroke="#3f2550" stroke-width="1.3" stroke-linejoin="round" stroke-linecap="round"/>
<path d="M29.5,852.6 C54.33,852.6 79.17,852.6 104,852.6 C105.33,852.6 106.67,853.6 108,853.6 C111.33,853.6 114.67,853.6 118,853.6 C119.33,853.6 120.67,852.62 122,852.6 C131.33,852.43 140.67,852.5 150,852.4 C160,852.29 170,851.92 180,851.6 C186.67,851.39 193.33,851.09 200,850.84" fill="none" stroke="#2e2e2e" stroke-width="1.7" stroke-linejoin="round" stroke-linecap="round"/>
<path d="M29.5,846.8 C45,846.8 60.5,846.8 76,846.8 C77.67,846.8 79.33,845.6 81,845.6 C87.33,845.6 93.67,845.6 100,845.6 C101.67,845.6 103.33,846.33 105,846.7" fill="none" stroke="#4a4a5a" stroke-width="1.3" stroke-linejoin="round" stroke-linecap="round"/>
<line x1="520" y1="865.2" x2="679" y2="865.2" stroke="#3cc83c" stroke-width="0.8"/>
<line x1="500" y1="863.8" x2="679" y2="863.8" stroke="#111" stroke-width="1.5"/>
<line x1="570" y1="863.1" x2="590" y2="863.1" stroke="#1a1a50" stroke-width="1.2"/>
<text x="435.1" y="74.5" font-family="'Liberation Serif', serif" font-style="italic" font-size="13.3" fill="#222">P. knowlesi</text>
<line x1="433.3" y1="69.7" x2="348.4" y2="132" stroke="#222" stroke-width="1.1"/>
<text x="489.3" y="147.9" font-family="'Liberation Serif', serif" font-style="italic" font-size="13.3" fill="#222">P. vivax</text>
<line x1="486.2" y1="146.8" x2="425.2" y2="193" stroke="#222" stroke-width="1.1"/>
<text x="523.5" y="195.7" font-family="'Liberation Serif', serif" font-style="italic" font-size="13.3" fill="#222">P. ovale</text>
<line x1="520.4" y1="193.6" x2="465.7" y2="232.5" stroke="#222" stroke-width="1.1"/>
<text x="160.5" y="175.5" font-family="'Liberation Serif', serif" font-style="italic" font-size="13.3" fill="#222">P. falciparum</text>
<line x1="235.4" y1="173.9" x2="285.3" y2="173.9" stroke="#222" stroke-width="1.1"/>
<text x="182.8" y="236" font-family="'Liberation Serif', serif" font-style="italic" font-size="13.3" fill="#222">P. malariae</text>
<line x1="247.2" y1="232.5" x2="303.7" y2="232.5" stroke="#222" stroke-width="1.1"/>
<text x="337.5" y="405" font-family="'Liberation Serif', serif" font-style="italic" font-size="13.3" fill="#222">P. ovale</text>
<line x1="284.2" y1="400.2" x2="334.9" y2="400.2" stroke="#222" stroke-width="1.1"/>
<text x="337.5" y="430.7" font-family="'Liberation Serif', serif" font-style="italic" font-size="13.3" fill="#222">P. vivax</text>
<line x1="281" y1="426.5" x2="334.9" y2="426.5" stroke="#222" stroke-width="1.1"/>
<text x="338.3" y="457.5" font-family="'Liberation Serif', serif" font-style="italic" font-size="13.3" fill="#222">P. knowlesi</text>
<line x1="262.6" y1="452.8" x2="334.9" y2="452.8" stroke="#222" stroke-width="1.1"/>
<text x="77.7" y="443" font-family="'Liberation Serif', serif" font-style="italic" font-size="13.3" fill="#222">P. falciparum</text>
<line x1="151.7" y1="441.8" x2="210" y2="483" stroke="#222" stroke-width="1.1"/>
<text x="93.7" y="531.9" font-family="'Liberation Serif', serif" font-style="italic" font-size="13.3" fill="#222">P. malariae</text>
<line x1="158.9" y1="527.6" x2="207.7" y2="527.6" stroke="#222" stroke-width="1.1"/>
<text x="103.3" y="713.8" font-family="'Liberation Serif', serif" font-style="italic" font-size="13.3" fill="#222">P. malariae</text>
<line x1="168.5" y1="709.3" x2="222.6" y2="709.3" stroke="#222" stroke-width="1.1"/>
<text x="83.5" y="770.5" font-family="'Liberation Serif', serif" font-style="italic" font-size="13.3" fill="#222">P. falciparum</text>
<line x1="157.3" y1="771.5" x2="210.5" y2="806.6" stroke="#222" stroke-width="1.1"/>
<text x="294.3" y="702" font-family="'Liberation Serif', serif" font-style="italic" font-size="13.3" fill="#222">P. knowlesi</text>
<line x1="327" y1="709.4" x2="351.5" y2="757.7" stroke="#222" stroke-width="1.1"/>
<text x="488.5" y="735.9" font-family="'Liberation Serif', serif" font-style="italic" font-size="13.3" fill="#222">P. vivax</text>
<line x1="484.4" y1="733.1" x2="432.1" y2="757.7" stroke="#222" stroke-width="1.1"/>
<text x="532.1" y="804.1" font-family="'Liberation Serif', serif" font-style="italic" font-size="13.3" fill="#222">P. ovale</text>
<line x1="529" y1="800.5" x2="487.8" y2="824.4" stroke="#222" stroke-width="1.1"/>
<rect x="312.3" y="17" width="2.2" height="1.2" fill="#999"/>
</svg></body></html>
